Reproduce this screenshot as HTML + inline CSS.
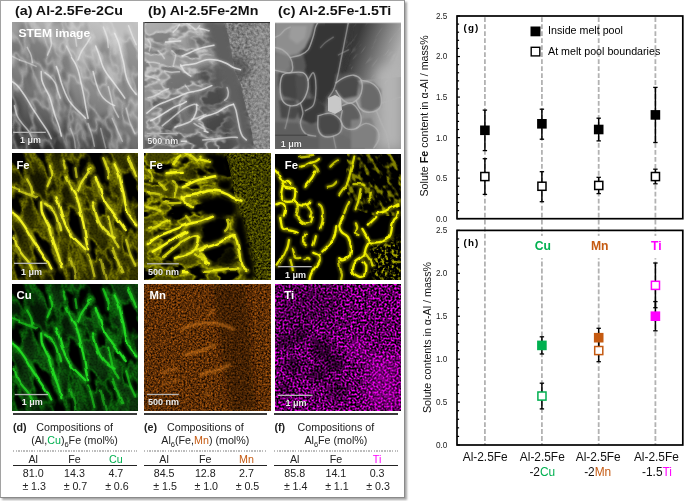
<!DOCTYPE html>
<html><head><meta charset="utf-8"><style>
*{margin:0;padding:0}
html,body{width:685px;height:501px;background:#fff;overflow:hidden;font-family:"Liberation Sans", sans-serif}
.ch{position:absolute;left:0;top:0}
.box{position:absolute;left:0;top:0;width:403px;height:495.6px;border:1px solid #a2a2a2;border-right-color:#8a8a8a;border-bottom-color:#8a8a8a;box-shadow:1.5px 1.5px 2px rgba(0,0,0,0.35)}
.tt{position:absolute;top:3.2px;font-weight:bold;font-size:13px;line-height:15px;transform:scaleX(1.097);transform-origin:0 0;white-space:nowrap;color:#111}
.pn{position:absolute;overflow:hidden}
.hl{position:absolute;height:1.6px;background:#3a3a3a}
.hl2{position:absolute;height:1.3px;background:#222}
.dl{position:absolute;height:1.5px;background:repeating-linear-gradient(90deg,#bdbdbd 0 1.5px,transparent 1.5px 2.62px)}
.tg{position:absolute;font-weight:bold;font-size:10.7px;line-height:12px;color:#222}
.tx{position:absolute;font-size:10.7px;line-height:12px;white-space:nowrap;color:#222}
.tx sub{font-size:7.5px;vertical-align:-2.5px;line-height:0}
.tc{position:absolute;width:50px;text-align:center;font-size:10.7px;line-height:12px;white-space:nowrap;color:#222}
.pm{margin-right:2.8px}
</style></head><body>
<div style="position:absolute;left:0;top:0;width:685px;height:501px;will-change:transform">
<div class="box"></div>

<div class="tt" style="left:14.6px">(a) Al-2.5Fe-2Cu</div>
<div class="tt" style="left:147.6px">(b) Al-2.5Fe-2Mn</div>
<div class="tt" style="left:277.6px">(c) Al-2.5Fe-1.5Ti</div>

<svg width="0" height="0" style="position:absolute"><defs><filter id="vA" x="0" y="0" width="100%" height="100%" color-interpolation-filters="sRGB">
<feTurbulence type="fractalNoise" baseFrequency="0.055 0.028" numOctaves="3" seed="7"/>
<feColorMatrix type="matrix" values="0 0 0 0 0 0 0 0 0 0 0 0 0 0 0 1 0 0 0 0"/>
<feComponentTransfer><feFuncA type="table" tableValues="0 0 0 0 0 0 0 0 0.4 1 0.4 0 0 0 0 0 0 0 0"/></feComponentTransfer>
<feComposite operator="in" in="SourceGraphic"/></filter><filter id="hA" x="0" y="0" width="100%" height="100%" color-interpolation-filters="sRGB">
<feTurbulence type="fractalNoise" baseFrequency="0.05 0.02" numOctaves="2" seed="11"/>
<feColorMatrix type="matrix" values="0 0 0 0 0 0 0 0 0 0 0 0 0 0 0 1 0 0 0 0"/>
<feComponentTransfer><feFuncA type="table" tableValues="1 1 1 1 1 1 1 1 1 0.6 0.2 0 0 0 0 0 0 0 0 0"/></feComponentTransfer>
<feComposite operator="in" in="SourceGraphic"/></filter><filter id="hA2" x="0" y="0" width="100%" height="100%" color-interpolation-filters="sRGB">
<feTurbulence type="fractalNoise" baseFrequency="0.055 0.028" numOctaves="3" seed="7"/>
<feColorMatrix type="matrix" values="0 0 0 0 0 0 0 0 0 0 0 0 0 0 0 1 0 0 0 0"/>
<feComponentTransfer><feFuncA type="table" tableValues="1 1 1 1 1 1 1 1 1 0.5 0 0 0 0 0 0 0 0 0 0"/></feComponentTransfer>
<feComposite operator="in" in="SourceGraphic"/></filter><filter id="hA3" x="0" y="0" width="100%" height="100%" color-interpolation-filters="sRGB">
<feTurbulence type="fractalNoise" baseFrequency="0.045 0.016" numOctaves="3" seed="7"/>
<feColorMatrix type="matrix" values="0 0 0 0 0 0 0 0 0 0 0 0 0 0 0 1 0 0 0 0"/>
<feComponentTransfer><feFuncA type="table" tableValues="0 0 0 0 0 0 0 0 0 0 0 0.5 1 1 1 1 1 1 1 1"/></feComponentTransfer>
<feComposite operator="in" in="SourceGraphic"/></filter><filter id="vB" x="0" y="0" width="100%" height="100%" color-interpolation-filters="sRGB">
<feTurbulence type="fractalNoise" baseFrequency="0.07 0.045" numOctaves="3" seed="5"/>
<feColorMatrix type="matrix" values="0 0 0 0 0 0 0 0 0 0 0 0 0 0 0 1 0 0 0 0"/>
<feComponentTransfer><feFuncA type="table" tableValues="0 0 0 0 0 0 0 0 0.4 1 0.4 0 0 0 0 0 0 0 0"/></feComponentTransfer>
<feComposite operator="in" in="SourceGraphic"/></filter><filter id="hB" x="0" y="0" width="100%" height="100%" color-interpolation-filters="sRGB">
<feTurbulence type="fractalNoise" baseFrequency="0.06 0.025" numOctaves="2" seed="13"/>
<feColorMatrix type="matrix" values="0 0 0 0 0 0 0 0 0 0 0 0 0 0 0 1 0 0 0 0"/>
<feComponentTransfer><feFuncA type="table" tableValues="1 1 1 1 1 1 1 1 1 0.6 0.2 0 0 0 0 0 0 0 0 0"/></feComponentTransfer>
<feComposite operator="in" in="SourceGraphic"/></filter><filter id="hB2" x="0" y="0" width="100%" height="100%" color-interpolation-filters="sRGB">
<feTurbulence type="fractalNoise" baseFrequency="0.07 0.045" numOctaves="3" seed="5"/>
<feColorMatrix type="matrix" values="0 0 0 0 0 0 0 0 0 0 0 0 0 0 0 1 0 0 0 0"/>
<feComponentTransfer><feFuncA type="table" tableValues="1 1 1 1 1 1 1 1 1 0.5 0 0 0 0 0 0 0 0 0 0"/></feComponentTransfer>
<feComposite operator="in" in="SourceGraphic"/></filter><filter id="spk" x="0" y="0" width="100%" height="100%" color-interpolation-filters="sRGB">
<feTurbulence type="fractalNoise" baseFrequency="0.42" numOctaves="2" seed="3"/>
<feColorMatrix type="matrix" values="0 0 0 0 0 0 0 0 0 0 0 0 0 0 0 1 0 0 0 0"/>
<feComponentTransfer><feFuncA type="table" tableValues="0 0 0 0.1 0.4 0.8 1 1"/></feComponentTransfer>
<feComposite operator="in" in="SourceGraphic"/></filter><filter id="spk2" x="0" y="0" width="100%" height="100%" color-interpolation-filters="sRGB">
<feTurbulence type="fractalNoise" baseFrequency="0.45" numOctaves="2" seed="8"/>
<feColorMatrix type="matrix" values="0 0 0 0 0 0 0 0 0 0 0 0 0 0 0 1 0 0 0 0"/>
<feComponentTransfer><feFuncA type="table" tableValues="0 0 0 0 0.3 0.8 1 1"/></feComponentTransfer>
<feComposite operator="in" in="SourceGraphic"/></filter><filter id="spkF" x="0" y="0" width="100%" height="100%" color-interpolation-filters="sRGB">
<feTurbulence type="fractalNoise" baseFrequency="0.5" numOctaves="2" seed="31"/>
<feColorMatrix type="matrix" values="0 0 0 0 0 0 0 0 0 0 0 0 0 0 0 1 0 0 0 0"/>
<feComponentTransfer><feFuncA type="table" tableValues="0 0 0 0.15 0.5 0.85 1 1"/></feComponentTransfer>
<feComposite operator="in" in="SourceGraphic"/></filter><filter id="spkT" x="0" y="0" width="100%" height="100%" color-interpolation-filters="sRGB">
<feTurbulence type="fractalNoise" baseFrequency="0.75" numOctaves="2" seed="41"/>
<feColorMatrix type="matrix" values="0 0 0 0 0 0 0 0 0 0 0 0 0 0 0 1 0 0 0 0"/>
<feComponentTransfer><feFuncA type="table" tableValues="0 0 0 0 0.1 0.5 0.9 1 1 1"/></feComponentTransfer>
<feComposite operator="in" in="SourceGraphic"/></filter><filter id="spkT2" x="0" y="0" width="100%" height="100%" color-interpolation-filters="sRGB">
<feTurbulence type="fractalNoise" baseFrequency="0.75" numOctaves="2" seed="43"/>
<feColorMatrix type="matrix" values="0 0 0 0 0 0 0 0 0 0 0 0 0 0 0 1 0 0 0 0"/>
<feComponentTransfer><feFuncA type="table" tableValues="0 0 0 0 0 0.1 0.6 1 1 1"/></feComponentTransfer>
<feComposite operator="in" in="SourceGraphic"/></filter><filter id="spkC" x="0" y="0" width="100%" height="100%" color-interpolation-filters="sRGB">
<feTurbulence type="fractalNoise" baseFrequency="0.35 0.06" numOctaves="2" seed="21"/>
<feColorMatrix type="matrix" values="0 0 0 0 0 0 0 0 0 0 0 0 0 0 0 1 0 0 0 0"/>
<feComponentTransfer><feFuncA type="table" tableValues="0 0 0 0 0 0 0.5 1 1"/></feComponentTransfer>
<feComposite operator="in" in="SourceGraphic"/></filter><filter id="dots" x="0" y="0" width="100%" height="100%" color-interpolation-filters="sRGB">
<feTurbulence type="fractalNoise" baseFrequency="0.25" numOctaves="2" seed="17"/>
<feColorMatrix type="matrix" values="0 0 0 0 0 0 0 0 0 0 0 0 0 0 0 1 0 0 0 0"/>
<feComponentTransfer><feFuncA type="table" tableValues="0 0 0 0 0 0 0 0.6 1 1"/></feComponentTransfer>
<feComposite operator="in" in="SourceGraphic"/></filter><filter id="dots2" x="0" y="0" width="100%" height="100%" color-interpolation-filters="sRGB">
<feTurbulence type="fractalNoise" baseFrequency="0.3" numOctaves="2" seed="17"/>
<feColorMatrix type="matrix" values="0 0 0 0 0 0 0 0 0 0 0 0 0 0 0 1 0 0 0 0"/>
<feComponentTransfer><feFuncA type="table" tableValues="0 0 0 0 0 0.3 0.9 1 1 1"/></feComponentTransfer>
<feComposite operator="in" in="SourceGraphic"/></filter><filter id="dots3" x="0" y="0" width="100%" height="100%" color-interpolation-filters="sRGB">
<feTurbulence type="fractalNoise" baseFrequency="0.22 0.12" numOctaves="2" seed="19"/>
<feColorMatrix type="matrix" values="0 0 0 0 0 0 0 0 0 0 0 0 0 0 0 1 0 0 0 0"/>
<feComponentTransfer><feFuncA type="table" tableValues="0 0 0 0 0 0 0.4 1 1 1 1"/></feComponentTransfer>
<feComposite operator="in" in="SourceGraphic"/></filter><filter id="nMn" x="0" y="0" width="100%" height="100%" color-interpolation-filters="sRGB">
<feTurbulence type="fractalNoise" baseFrequency="0.55" numOctaves="2" seed="51"/>
<feColorMatrix type="matrix" values="1.0196 0 0 0 -0.1373 0.5490 0 0 0 -0.0902 0.0941 0 0 0 -0.0235 0 0 0 0 1"/><feGaussianBlur stdDeviation="0.35"/>
</filter><filter id="nTi" x="0" y="0" width="100%" height="100%" color-interpolation-filters="sRGB">
<feTurbulence type="fractalNoise" baseFrequency="0.5" numOctaves="3" seed="53"/>
<feColorMatrix type="matrix" values="2.6144 0 0 0 -0.9412 0.0000 0 0 0 0.0000 2.6144 0 0 0 -0.9412 0 0 0 0 1"/><feGaussianBlur stdDeviation="0.35"/>
</filter><filter id="nFeB" x="0" y="0" width="100%" height="100%" color-interpolation-filters="sRGB">
<feTurbulence type="fractalNoise" baseFrequency="0.48" numOctaves="2" seed="55"/>
<feColorMatrix type="matrix" values="0.8217 0 0 0 -0.1602 0.8217 0 0 0 -0.1602 0.0000 0 0 0 0.0000 0 0 0 0 1"/><feGaussianBlur stdDeviation="0.35"/>
</filter><filter id="nStB" x="0" y="0" width="100%" height="100%" color-interpolation-filters="sRGB">
<feTurbulence type="fractalNoise" baseFrequency="0.36" numOctaves="2" seed="57"/>
<feColorMatrix type="matrix" values="0.4902 0 0 0 0.2549 0.4902 0 0 0 0.2549 0.4902 0 0 0 0.2549 0 0 0 0 1"/><feGaussianBlur stdDeviation="0.35"/>
</filter><filter id="b05" x="-10%" y="-10%" width="120%" height="120%"><feGaussianBlur stdDeviation="0.55"/></filter><filter id="wig" x="-5%" y="-5%" width="110%" height="110%"><feTurbulence type="fractalNoise" baseFrequency="0.12" numOctaves="1" seed="2" result="n"/><feDisplacementMap in="SourceGraphic" in2="n" scale="4" xChannelSelector="R" yChannelSelector="G" result="d"/><feGaussianBlur in="d" stdDeviation="0.45"/></filter><filter id="wig2" x="-5%" y="-5%" width="110%" height="110%"><feTurbulence type="fractalNoise" baseFrequency="0.09" numOctaves="1" seed="12" result="n"/><feDisplacementMap in="SourceGraphic" in2="n" scale="4" xChannelSelector="R" yChannelSelector="G" result="d"/><feGaussianBlur in="d" stdDeviation="0.5"/></filter><filter id="b1" x="-20%" y="-20%" width="140%" height="140%"><feGaussianBlur stdDeviation="1"/></filter><filter id="b07" x="-20%" y="-20%" width="140%" height="140%"><feGaussianBlur stdDeviation="0.75"/></filter><filter id="b2" x="-20%" y="-20%" width="140%" height="140%"><feGaussianBlur stdDeviation="2"/></filter><filter id="b3" x="-30%" y="-30%" width="160%" height="160%"><feGaussianBlur stdDeviation="3"/></filter><filter id="b6" x="-50%" y="-50%" width="200%" height="200%"><feGaussianBlur stdDeviation="6"/></filter><linearGradient id="gA1" x1="0.65" y1="0" x2="0.2" y2="1"><stop offset="0" stop-color="#c0c0c0"/><stop offset="0.35" stop-color="#989898"/><stop offset="0.7" stop-color="#6c6c6c"/><stop offset="1" stop-color="#323232"/></linearGradient><clipPath id="cBspk"><path d="M81.0,0.0 L85.0,12.6 L88.7,31.0 L92.0,50.0 L98.0,63.0 L100.7,76.0 L105.8,95.0 L109.6,114.0 L111.0,127.0 L127.0,127.0 L127.0,0.0 Z"/></clipPath><clipPath id="cBnet"><path d="M0,0 L81,0 L85,12.6 L88.7,31 L92,50 L98,63 L100.7,76 L105.8,95 L109.6,114 L111,127 L0,127 Z"/></clipPath><linearGradient id="gB1" x1="0" y1="0" x2="0.6" y2="1"><stop offset="0" stop-color="#b0b0b0"/><stop offset="0.5" stop-color="#8a8a8a"/><stop offset="1" stop-color="#585858"/></linearGradient><linearGradient id="gC1r" x1="0" y1="0" x2="1" y2="0.3"><stop offset="0.45" stop-color="#3a3a3a"/><stop offset="1" stop-color="#b0b0b0"/></linearGradient><linearGradient id="gCti" x1="0" y1="0" x2="1" y2="1"><stop offset="0.3" stop-color="#fff" stop-opacity="0"/><stop offset="1" stop-color="#fff" stop-opacity="1"/></linearGradient><linearGradient id="gCd" x1="0" y1="0" x2="1" y2="0"><stop offset="0.55" stop-color="#fff" stop-opacity="0.25"/><stop offset="1" stop-color="#fff" stop-opacity="1"/></linearGradient><mask id="mCdots"><rect width="127" height="127" fill="url(#gCd)"/></mask><mask id="mCspk2"><path d="M96,92 L127,84 L127,127 L98,127 Z" fill="#fff" filter="url(#b3)"/></mask><mask id="mCti"><rect width="127" height="127" fill="url(#gCti)"/></mask><clipPath id="cCspk1"><path d="M72,0 L127,0 L127,62 L100,62 L80,55 L70,35 Z"/></clipPath><clipPath id="cCspk2"><path d="M98,90 L127,85 L127,127 L98,127 Z"/></clipPath></defs></svg>
<svg class="pn" style="left:12px;top:22px" width="126" height="127" viewBox="0 0 126 127"><rect width="126" height="127" fill="url(#gA1)"/><g><g transform="rotate(-17 63 63)" opacity="0.18"><rect x="-60" y="-60" width="250" height="250" fill="#000" filter="url(#hA)"/></g></g><g><g transform="rotate(-17 63 63)" opacity="0.4"><rect x="-60" y="-60" width="250" height="250" fill="#e4e4e4" filter="url(#vA)"/></g></g><g fill="none" stroke="#f0f0f0" stroke-width="3.9000000000000004" stroke-linecap="round" stroke-linejoin="round" opacity="0.3" filter="url(#b1)"><path d="M0.0,59.6 C0.8,60.2 3.4,61.7 5.1,63.4 C6.8,65.1 8.5,67.4 10.1,69.7 C11.8,72.1 13.5,74.6 15.2,77.3 C16.9,80.1 18.6,83.5 20.3,86.2 C22.0,89.0 23.7,91.3 25.4,93.8 C27.0,96.3 28.7,98.9 30.4,101.4 C32.1,104.0 34.0,106.5 35.5,109.0 C37.0,111.6 38.7,115.4 39.3,116.6" stroke-opacity="0.70"/><path d="M29.2,49.4 C29.3,50.9 29.3,55.6 29.9,58.3 C30.6,61.1 31.7,63.2 33.0,65.9 C34.2,68.7 36.3,71.6 37.5,74.8 C38.8,78.0 39.6,81.8 40.6,84.9 C41.5,88.1 42.0,90.6 43.1,93.8 C44.2,97.0 45.9,100.6 46.9,104.0 C48.0,107.3 49.0,112.4 49.4,114.1" stroke-opacity="0.70"/><path d="M33.0,50.7 C33.8,51.3 36.3,52.8 38.0,54.5 C39.7,56.2 41.8,58.5 43.1,60.9 C44.4,63.2 44.8,65.9 45.6,68.5 C46.5,71.0 47.8,74.8 48.2,76.1" stroke-opacity="0.56"/><path d="M44.4,44.4 C44.8,45.6 46.1,49.2 46.9,52.0 C47.8,54.7 48.4,57.7 49.4,60.9 C50.5,64.0 52.0,68.0 53.2,71.0 C54.5,74.0 55.6,76.3 57.0,78.6 C58.5,80.9 60.2,82.8 62.1,84.9 C64.0,87.1 66.6,89.4 68.5,91.3 C70.4,93.2 72.7,95.5 73.5,96.3" stroke-opacity="0.70"/><path d="M59.6,35.5 C60.2,36.6 62.2,39.5 63.4,41.8 C64.5,44.2 65.6,46.7 66.4,49.4 C67.3,52.2 67.8,55.4 68.5,58.3 C69.1,61.3 69.9,64.2 70.5,67.2 C71.1,70.1 71.7,72.9 72.3,76.1 C72.9,79.2 73.4,82.8 74.0,86.2 C74.7,89.6 75.7,94.7 76.1,96.3" stroke-opacity="0.70"/><path d="M81.1,49.4 C81.6,51.1 82.7,56.4 83.7,59.6 C84.6,62.8 85.4,65.7 86.7,68.5 C88.0,71.2 89.5,74.0 91.3,76.1 C93.1,78.2 95.7,79.9 97.6,81.1 C99.5,82.4 101.8,83.2 102.7,83.7" stroke-opacity="0.63"/><path d="M83.7,24.1 C84.3,25.8 86.3,30.8 87.5,34.2 C88.7,37.6 89.5,41.4 90.8,44.4 C92.0,47.3 93.4,49.4 95.1,52.0 C96.8,54.5 99.0,57.0 100.9,59.6 C102.8,62.1 104.5,64.4 106.5,67.2 C108.5,69.9 111.8,74.6 112.8,76.1" stroke-opacity="0.70"/><path d="M102.7,11.4 C103.3,12.9 105.4,17.1 106.5,20.3 C107.5,23.5 108.2,27.0 109.0,30.4 C109.9,33.8 110.8,37.2 111.6,40.6 C112.3,43.9 112.7,47.8 113.3,50.7 C114.0,53.7 114.4,55.8 115.4,58.3 C116.3,60.9 117.7,63.6 119.2,65.9 C120.6,68.2 123.4,71.2 124.2,72.3" stroke-opacity="0.70"/><path d="M2.5,83.7 C3.0,85.4 3.8,90.9 5.1,93.8 C6.3,96.8 8.2,98.9 10.1,101.4 C12.0,104.0 14.8,106.5 16.5,109.0 C18.2,111.6 19.7,115.4 20.3,116.6" stroke-opacity="0.56"/><path d="M7.6,38.0 C8.9,38.5 12.5,39.5 15.2,40.6 C18.0,41.6 22.6,43.7 24.1,44.4" stroke-opacity="0.42"/><path d="M15.2,25.4 C15.8,26.6 18.2,30.4 19.0,33.0 C19.9,35.5 20.1,39.3 20.3,40.6" stroke-opacity="0.49"/><path d="M38.0,12.7 C38.2,14.4 39.7,19.4 39.3,22.8 C38.9,26.2 36.1,31.3 35.5,33.0" stroke-opacity="0.49"/><path d="M54.5,24.1 C55.4,25.8 58.7,32.5 59.6,34.2" stroke-opacity="0.49"/><path d="M65.9,38.0 C66.6,36.6 68.2,31.9 69.7,29.2 C71.2,26.4 73.3,23.9 74.8,21.6 C76.3,19.2 78.0,16.3 78.6,15.2" stroke-opacity="0.56"/><path d="M91.3,5.1 C91.9,6.8 94.2,11.8 95.1,15.2 C95.9,18.6 96.1,23.7 96.3,25.4" stroke-opacity="0.49"/><path d="M116.6,3.8 C117.3,5.5 119.2,10.8 120.4,13.9 C121.7,17.1 123.6,21.3 124.2,22.8" stroke-opacity="0.56"/><path d="M96.3,64.7 C96.8,66.3 98.0,71.4 98.9,74.8 C99.7,78.2 100.2,81.6 101.4,84.9 C102.7,88.3 105.6,93.4 106.5,95.1" stroke-opacity="0.49"/><path d="M63.4,15.2 C63.6,16.7 64.4,22.6 64.7,24.1" stroke-opacity="0.42"/><path d="M50.7,7.6 C51.1,8.9 52.8,13.9 53.2,15.2" stroke-opacity="0.42"/><path d="M76.1,101.4 C76.7,103.3 78.8,109.0 79.9,112.8 C80.9,116.6 82.0,122.3 82.4,124.2" stroke-opacity="0.42"/><path d="M100.2,96.3 C101.0,98.3 103.5,104.0 105.2,107.8 C106.9,111.6 109.4,117.3 110.3,119.2" stroke-opacity="0.42"/><path d="M114.1,86.2 C114.7,88.5 116.4,95.9 117.9,100.2 C119.4,104.4 122.1,109.7 123.0,111.6" stroke-opacity="0.42"/><path d="M0.0,34.2 C1.3,34.9 6.3,37.4 7.6,38.0" stroke-opacity="0.42"/><path d="M58.3,106.5 C59.0,108.2 61.3,113.4 62.1,116.6 C63.0,119.9 63.2,124.5 63.4,126.0" stroke-opacity="0.35"/><path d="M88.7,106.5 C89.2,108.2 90.4,113.4 91.3,116.6 C92.1,119.9 93.4,124.5 93.8,126.0" stroke-opacity="0.35"/></g><g fill="none" stroke="#f0f0f0" stroke-width="1.5" stroke-linecap="round" stroke-linejoin="round" filter="url(#b07)"><path d="M0.0,59.6 C0.8,60.2 3.4,61.7 5.1,63.4 C6.8,65.1 8.5,67.4 10.1,69.7 C11.8,72.1 13.5,74.6 15.2,77.3 C16.9,80.1 18.6,83.5 20.3,86.2 C22.0,89.0 23.7,91.3 25.4,93.8 C27.0,96.3 28.7,98.9 30.4,101.4 C32.1,104.0 34.0,106.5 35.5,109.0 C37.0,111.6 38.7,115.4 39.3,116.6" stroke-opacity="0.70"/><path d="M29.2,49.4 C29.3,50.9 29.3,55.6 29.9,58.3 C30.6,61.1 31.7,63.2 33.0,65.9 C34.2,68.7 36.3,71.6 37.5,74.8 C38.8,78.0 39.6,81.8 40.6,84.9 C41.5,88.1 42.0,90.6 43.1,93.8 C44.2,97.0 45.9,100.6 46.9,104.0 C48.0,107.3 49.0,112.4 49.4,114.1" stroke-opacity="0.70"/><path d="M33.0,50.7 C33.8,51.3 36.3,52.8 38.0,54.5 C39.7,56.2 41.8,58.5 43.1,60.9 C44.4,63.2 44.8,65.9 45.6,68.5 C46.5,71.0 47.8,74.8 48.2,76.1" stroke-opacity="0.56"/><path d="M44.4,44.4 C44.8,45.6 46.1,49.2 46.9,52.0 C47.8,54.7 48.4,57.7 49.4,60.9 C50.5,64.0 52.0,68.0 53.2,71.0 C54.5,74.0 55.6,76.3 57.0,78.6 C58.5,80.9 60.2,82.8 62.1,84.9 C64.0,87.1 66.6,89.4 68.5,91.3 C70.4,93.2 72.7,95.5 73.5,96.3" stroke-opacity="0.70"/><path d="M59.6,35.5 C60.2,36.6 62.2,39.5 63.4,41.8 C64.5,44.2 65.6,46.7 66.4,49.4 C67.3,52.2 67.8,55.4 68.5,58.3 C69.1,61.3 69.9,64.2 70.5,67.2 C71.1,70.1 71.7,72.9 72.3,76.1 C72.9,79.2 73.4,82.8 74.0,86.2 C74.7,89.6 75.7,94.7 76.1,96.3" stroke-opacity="0.70"/><path d="M81.1,49.4 C81.6,51.1 82.7,56.4 83.7,59.6 C84.6,62.8 85.4,65.7 86.7,68.5 C88.0,71.2 89.5,74.0 91.3,76.1 C93.1,78.2 95.7,79.9 97.6,81.1 C99.5,82.4 101.8,83.2 102.7,83.7" stroke-opacity="0.63"/><path d="M83.7,24.1 C84.3,25.8 86.3,30.8 87.5,34.2 C88.7,37.6 89.5,41.4 90.8,44.4 C92.0,47.3 93.4,49.4 95.1,52.0 C96.8,54.5 99.0,57.0 100.9,59.6 C102.8,62.1 104.5,64.4 106.5,67.2 C108.5,69.9 111.8,74.6 112.8,76.1" stroke-opacity="0.70"/><path d="M102.7,11.4 C103.3,12.9 105.4,17.1 106.5,20.3 C107.5,23.5 108.2,27.0 109.0,30.4 C109.9,33.8 110.8,37.2 111.6,40.6 C112.3,43.9 112.7,47.8 113.3,50.7 C114.0,53.7 114.4,55.8 115.4,58.3 C116.3,60.9 117.7,63.6 119.2,65.9 C120.6,68.2 123.4,71.2 124.2,72.3" stroke-opacity="0.70"/><path d="M2.5,83.7 C3.0,85.4 3.8,90.9 5.1,93.8 C6.3,96.8 8.2,98.9 10.1,101.4 C12.0,104.0 14.8,106.5 16.5,109.0 C18.2,111.6 19.7,115.4 20.3,116.6" stroke-opacity="0.56"/><path d="M7.6,38.0 C8.9,38.5 12.5,39.5 15.2,40.6 C18.0,41.6 22.6,43.7 24.1,44.4" stroke-opacity="0.42"/><path d="M15.2,25.4 C15.8,26.6 18.2,30.4 19.0,33.0 C19.9,35.5 20.1,39.3 20.3,40.6" stroke-opacity="0.49"/><path d="M38.0,12.7 C38.2,14.4 39.7,19.4 39.3,22.8 C38.9,26.2 36.1,31.3 35.5,33.0" stroke-opacity="0.49"/><path d="M54.5,24.1 C55.4,25.8 58.7,32.5 59.6,34.2" stroke-opacity="0.49"/><path d="M65.9,38.0 C66.6,36.6 68.2,31.9 69.7,29.2 C71.2,26.4 73.3,23.9 74.8,21.6 C76.3,19.2 78.0,16.3 78.6,15.2" stroke-opacity="0.56"/><path d="M91.3,5.1 C91.9,6.8 94.2,11.8 95.1,15.2 C95.9,18.6 96.1,23.7 96.3,25.4" stroke-opacity="0.49"/><path d="M116.6,3.8 C117.3,5.5 119.2,10.8 120.4,13.9 C121.7,17.1 123.6,21.3 124.2,22.8" stroke-opacity="0.56"/><path d="M96.3,64.7 C96.8,66.3 98.0,71.4 98.9,74.8 C99.7,78.2 100.2,81.6 101.4,84.9 C102.7,88.3 105.6,93.4 106.5,95.1" stroke-opacity="0.49"/><path d="M63.4,15.2 C63.6,16.7 64.4,22.6 64.7,24.1" stroke-opacity="0.42"/><path d="M50.7,7.6 C51.1,8.9 52.8,13.9 53.2,15.2" stroke-opacity="0.42"/><path d="M76.1,101.4 C76.7,103.3 78.8,109.0 79.9,112.8 C80.9,116.6 82.0,122.3 82.4,124.2" stroke-opacity="0.42"/><path d="M100.2,96.3 C101.0,98.3 103.5,104.0 105.2,107.8 C106.9,111.6 109.4,117.3 110.3,119.2" stroke-opacity="0.42"/><path d="M114.1,86.2 C114.7,88.5 116.4,95.9 117.9,100.2 C119.4,104.4 122.1,109.7 123.0,111.6" stroke-opacity="0.42"/><path d="M0.0,34.2 C1.3,34.9 6.3,37.4 7.6,38.0" stroke-opacity="0.42"/><path d="M58.3,106.5 C59.0,108.2 61.3,113.4 62.1,116.6 C63.0,119.9 63.2,124.5 63.4,126.0" stroke-opacity="0.35"/><path d="M88.7,106.5 C89.2,108.2 90.4,113.4 91.3,116.6 C92.1,119.9 93.4,124.5 93.8,126.0" stroke-opacity="0.35"/></g><text font-family="Liberation Sans" font-weight="bold" font-size="11.3" fill="#fff" transform="translate(6.4 15.2) scale(1.07 1)">STEM image</text><rect x="1.1" y="109.7" width="32.699999999999996" height="1.3" fill="#b4b4b4"/><text x="7.9" y="121.2" font-family="Liberation Sans" font-weight="bold" font-size="9" fill="#eeeeee" stroke="#000" stroke-width="0.7" stroke-opacity="0.45" paint-order="stroke">1 μm</text></svg>
<svg class="pn" style="left:12px;top:153px" width="126" height="127" viewBox="0 0 126 127"><rect width="126" height="127" fill="#3a3a00"/><g><g transform="rotate(-17 63 63)" opacity="1.0"><rect x="-60" y="-60" width="250" height="250" fill="#000" filter="url(#hA2)"/></g></g><g><g transform="rotate(-17 63 63)" opacity="0.5"><rect x="-60" y="-60" width="250" height="250" fill="#000" filter="url(#hA)"/></g></g><g><g transform="rotate(-17 63 63)" opacity="0.5"><rect x="-60" y="-60" width="250" height="250" fill="#d0d000" filter="url(#vA)"/></g></g><g><rect width="127" height="127" fill="#000" opacity="0.4" filter="url(#spkF)"/></g><g fill="none" stroke="#f0f020" stroke-width="5.06" stroke-linecap="round" stroke-linejoin="round" opacity="0.45" filter="url(#b1)"><path d="M0.0,59.6 C0.8,60.2 3.4,61.7 5.1,63.4 C6.8,65.1 8.5,67.4 10.1,69.7 C11.8,72.1 13.5,74.6 15.2,77.3 C16.9,80.1 18.6,83.5 20.3,86.2 C22.0,89.0 23.7,91.3 25.4,93.8 C27.0,96.3 28.7,98.9 30.4,101.4 C32.1,104.0 34.0,106.5 35.5,109.0 C37.0,111.6 38.7,115.4 39.3,116.6" stroke-opacity="1.00"/><path d="M29.2,49.4 C29.3,50.9 29.3,55.6 29.9,58.3 C30.6,61.1 31.7,63.2 33.0,65.9 C34.2,68.7 36.3,71.6 37.5,74.8 C38.8,78.0 39.6,81.8 40.6,84.9 C41.5,88.1 42.0,90.6 43.1,93.8 C44.2,97.0 45.9,100.6 46.9,104.0 C48.0,107.3 49.0,112.4 49.4,114.1" stroke-opacity="1.00"/><path d="M33.0,50.7 C33.8,51.3 36.3,52.8 38.0,54.5 C39.7,56.2 41.8,58.5 43.1,60.9 C44.4,63.2 44.8,65.9 45.6,68.5 C46.5,71.0 47.8,74.8 48.2,76.1" stroke-opacity="0.80"/><path d="M44.4,44.4 C44.8,45.6 46.1,49.2 46.9,52.0 C47.8,54.7 48.4,57.7 49.4,60.9 C50.5,64.0 52.0,68.0 53.2,71.0 C54.5,74.0 55.6,76.3 57.0,78.6 C58.5,80.9 60.2,82.8 62.1,84.9 C64.0,87.1 66.6,89.4 68.5,91.3 C70.4,93.2 72.7,95.5 73.5,96.3" stroke-opacity="1.00"/><path d="M59.6,35.5 C60.2,36.6 62.2,39.5 63.4,41.8 C64.5,44.2 65.6,46.7 66.4,49.4 C67.3,52.2 67.8,55.4 68.5,58.3 C69.1,61.3 69.9,64.2 70.5,67.2 C71.1,70.1 71.7,72.9 72.3,76.1 C72.9,79.2 73.4,82.8 74.0,86.2 C74.7,89.6 75.7,94.7 76.1,96.3" stroke-opacity="1.00"/><path d="M81.1,49.4 C81.6,51.1 82.7,56.4 83.7,59.6 C84.6,62.8 85.4,65.7 86.7,68.5 C88.0,71.2 89.5,74.0 91.3,76.1 C93.1,78.2 95.7,79.9 97.6,81.1 C99.5,82.4 101.8,83.2 102.7,83.7" stroke-opacity="0.90"/><path d="M83.7,24.1 C84.3,25.8 86.3,30.8 87.5,34.2 C88.7,37.6 89.5,41.4 90.8,44.4 C92.0,47.3 93.4,49.4 95.1,52.0 C96.8,54.5 99.0,57.0 100.9,59.6 C102.8,62.1 104.5,64.4 106.5,67.2 C108.5,69.9 111.8,74.6 112.8,76.1" stroke-opacity="1.00"/><path d="M102.7,11.4 C103.3,12.9 105.4,17.1 106.5,20.3 C107.5,23.5 108.2,27.0 109.0,30.4 C109.9,33.8 110.8,37.2 111.6,40.6 C112.3,43.9 112.7,47.8 113.3,50.7 C114.0,53.7 114.4,55.8 115.4,58.3 C116.3,60.9 117.7,63.6 119.2,65.9 C120.6,68.2 123.4,71.2 124.2,72.3" stroke-opacity="1.00"/><path d="M2.5,83.7 C3.0,85.4 3.8,90.9 5.1,93.8 C6.3,96.8 8.2,98.9 10.1,101.4 C12.0,104.0 14.8,106.5 16.5,109.0 C18.2,111.6 19.7,115.4 20.3,116.6" stroke-opacity="0.80"/><path d="M7.6,38.0 C8.9,38.5 12.5,39.5 15.2,40.6 C18.0,41.6 22.6,43.7 24.1,44.4" stroke-opacity="0.60"/><path d="M15.2,25.4 C15.8,26.6 18.2,30.4 19.0,33.0 C19.9,35.5 20.1,39.3 20.3,40.6" stroke-opacity="0.70"/><path d="M38.0,12.7 C38.2,14.4 39.7,19.4 39.3,22.8 C38.9,26.2 36.1,31.3 35.5,33.0" stroke-opacity="0.70"/><path d="M54.5,24.1 C55.4,25.8 58.7,32.5 59.6,34.2" stroke-opacity="0.70"/><path d="M65.9,38.0 C66.6,36.6 68.2,31.9 69.7,29.2 C71.2,26.4 73.3,23.9 74.8,21.6 C76.3,19.2 78.0,16.3 78.6,15.2" stroke-opacity="0.80"/><path d="M91.3,5.1 C91.9,6.8 94.2,11.8 95.1,15.2 C95.9,18.6 96.1,23.7 96.3,25.4" stroke-opacity="0.70"/><path d="M116.6,3.8 C117.3,5.5 119.2,10.8 120.4,13.9 C121.7,17.1 123.6,21.3 124.2,22.8" stroke-opacity="0.80"/><path d="M96.3,64.7 C96.8,66.3 98.0,71.4 98.9,74.8 C99.7,78.2 100.2,81.6 101.4,84.9 C102.7,88.3 105.6,93.4 106.5,95.1" stroke-opacity="0.70"/><path d="M63.4,15.2 C63.6,16.7 64.4,22.6 64.7,24.1" stroke-opacity="0.60"/><path d="M50.7,7.6 C51.1,8.9 52.8,13.9 53.2,15.2" stroke-opacity="0.60"/><path d="M76.1,101.4 C76.7,103.3 78.8,109.0 79.9,112.8 C80.9,116.6 82.0,122.3 82.4,124.2" stroke-opacity="0.60"/><path d="M100.2,96.3 C101.0,98.3 103.5,104.0 105.2,107.8 C106.9,111.6 109.4,117.3 110.3,119.2" stroke-opacity="0.60"/><path d="M114.1,86.2 C114.7,88.5 116.4,95.9 117.9,100.2 C119.4,104.4 122.1,109.7 123.0,111.6" stroke-opacity="0.60"/><path d="M0.0,34.2 C1.3,34.9 6.3,37.4 7.6,38.0" stroke-opacity="0.60"/><path d="M58.3,106.5 C59.0,108.2 61.3,113.4 62.1,116.6 C63.0,119.9 63.2,124.5 63.4,126.0" stroke-opacity="0.50"/><path d="M88.7,106.5 C89.2,108.2 90.4,113.4 91.3,116.6 C92.1,119.9 93.4,124.5 93.8,126.0" stroke-opacity="0.50"/></g><g fill="none" stroke="#f0f020" stroke-width="2.3" stroke-linecap="round" stroke-linejoin="round" filter="url(#wig2)"><path d="M0.0,59.6 C0.8,60.2 3.4,61.7 5.1,63.4 C6.8,65.1 8.5,67.4 10.1,69.7 C11.8,72.1 13.5,74.6 15.2,77.3 C16.9,80.1 18.6,83.5 20.3,86.2 C22.0,89.0 23.7,91.3 25.4,93.8 C27.0,96.3 28.7,98.9 30.4,101.4 C32.1,104.0 34.0,106.5 35.5,109.0 C37.0,111.6 38.7,115.4 39.3,116.6" stroke-opacity="1.00"/><path d="M29.2,49.4 C29.3,50.9 29.3,55.6 29.9,58.3 C30.6,61.1 31.7,63.2 33.0,65.9 C34.2,68.7 36.3,71.6 37.5,74.8 C38.8,78.0 39.6,81.8 40.6,84.9 C41.5,88.1 42.0,90.6 43.1,93.8 C44.2,97.0 45.9,100.6 46.9,104.0 C48.0,107.3 49.0,112.4 49.4,114.1" stroke-opacity="1.00"/><path d="M33.0,50.7 C33.8,51.3 36.3,52.8 38.0,54.5 C39.7,56.2 41.8,58.5 43.1,60.9 C44.4,63.2 44.8,65.9 45.6,68.5 C46.5,71.0 47.8,74.8 48.2,76.1" stroke-opacity="0.80"/><path d="M44.4,44.4 C44.8,45.6 46.1,49.2 46.9,52.0 C47.8,54.7 48.4,57.7 49.4,60.9 C50.5,64.0 52.0,68.0 53.2,71.0 C54.5,74.0 55.6,76.3 57.0,78.6 C58.5,80.9 60.2,82.8 62.1,84.9 C64.0,87.1 66.6,89.4 68.5,91.3 C70.4,93.2 72.7,95.5 73.5,96.3" stroke-opacity="1.00"/><path d="M59.6,35.5 C60.2,36.6 62.2,39.5 63.4,41.8 C64.5,44.2 65.6,46.7 66.4,49.4 C67.3,52.2 67.8,55.4 68.5,58.3 C69.1,61.3 69.9,64.2 70.5,67.2 C71.1,70.1 71.7,72.9 72.3,76.1 C72.9,79.2 73.4,82.8 74.0,86.2 C74.7,89.6 75.7,94.7 76.1,96.3" stroke-opacity="1.00"/><path d="M81.1,49.4 C81.6,51.1 82.7,56.4 83.7,59.6 C84.6,62.8 85.4,65.7 86.7,68.5 C88.0,71.2 89.5,74.0 91.3,76.1 C93.1,78.2 95.7,79.9 97.6,81.1 C99.5,82.4 101.8,83.2 102.7,83.7" stroke-opacity="0.90"/><path d="M83.7,24.1 C84.3,25.8 86.3,30.8 87.5,34.2 C88.7,37.6 89.5,41.4 90.8,44.4 C92.0,47.3 93.4,49.4 95.1,52.0 C96.8,54.5 99.0,57.0 100.9,59.6 C102.8,62.1 104.5,64.4 106.5,67.2 C108.5,69.9 111.8,74.6 112.8,76.1" stroke-opacity="1.00"/><path d="M102.7,11.4 C103.3,12.9 105.4,17.1 106.5,20.3 C107.5,23.5 108.2,27.0 109.0,30.4 C109.9,33.8 110.8,37.2 111.6,40.6 C112.3,43.9 112.7,47.8 113.3,50.7 C114.0,53.7 114.4,55.8 115.4,58.3 C116.3,60.9 117.7,63.6 119.2,65.9 C120.6,68.2 123.4,71.2 124.2,72.3" stroke-opacity="1.00"/><path d="M2.5,83.7 C3.0,85.4 3.8,90.9 5.1,93.8 C6.3,96.8 8.2,98.9 10.1,101.4 C12.0,104.0 14.8,106.5 16.5,109.0 C18.2,111.6 19.7,115.4 20.3,116.6" stroke-opacity="0.80"/><path d="M7.6,38.0 C8.9,38.5 12.5,39.5 15.2,40.6 C18.0,41.6 22.6,43.7 24.1,44.4" stroke-opacity="0.60"/><path d="M15.2,25.4 C15.8,26.6 18.2,30.4 19.0,33.0 C19.9,35.5 20.1,39.3 20.3,40.6" stroke-opacity="0.70"/><path d="M38.0,12.7 C38.2,14.4 39.7,19.4 39.3,22.8 C38.9,26.2 36.1,31.3 35.5,33.0" stroke-opacity="0.70"/><path d="M54.5,24.1 C55.4,25.8 58.7,32.5 59.6,34.2" stroke-opacity="0.70"/><path d="M65.9,38.0 C66.6,36.6 68.2,31.9 69.7,29.2 C71.2,26.4 73.3,23.9 74.8,21.6 C76.3,19.2 78.0,16.3 78.6,15.2" stroke-opacity="0.80"/><path d="M91.3,5.1 C91.9,6.8 94.2,11.8 95.1,15.2 C95.9,18.6 96.1,23.7 96.3,25.4" stroke-opacity="0.70"/><path d="M116.6,3.8 C117.3,5.5 119.2,10.8 120.4,13.9 C121.7,17.1 123.6,21.3 124.2,22.8" stroke-opacity="0.80"/><path d="M96.3,64.7 C96.8,66.3 98.0,71.4 98.9,74.8 C99.7,78.2 100.2,81.6 101.4,84.9 C102.7,88.3 105.6,93.4 106.5,95.1" stroke-opacity="0.70"/><path d="M63.4,15.2 C63.6,16.7 64.4,22.6 64.7,24.1" stroke-opacity="0.60"/><path d="M50.7,7.6 C51.1,8.9 52.8,13.9 53.2,15.2" stroke-opacity="0.60"/><path d="M76.1,101.4 C76.7,103.3 78.8,109.0 79.9,112.8 C80.9,116.6 82.0,122.3 82.4,124.2" stroke-opacity="0.60"/><path d="M100.2,96.3 C101.0,98.3 103.5,104.0 105.2,107.8 C106.9,111.6 109.4,117.3 110.3,119.2" stroke-opacity="0.60"/><path d="M114.1,86.2 C114.7,88.5 116.4,95.9 117.9,100.2 C119.4,104.4 122.1,109.7 123.0,111.6" stroke-opacity="0.60"/><path d="M0.0,34.2 C1.3,34.9 6.3,37.4 7.6,38.0" stroke-opacity="0.60"/><path d="M58.3,106.5 C59.0,108.2 61.3,113.4 62.1,116.6 C63.0,119.9 63.2,124.5 63.4,126.0" stroke-opacity="0.50"/><path d="M88.7,106.5 C89.2,108.2 90.4,113.4 91.3,116.6 C92.1,119.9 93.4,124.5 93.8,126.0" stroke-opacity="0.50"/></g><text font-family="Liberation Sans" font-weight="bold" font-size="11.3" fill="#fff" transform="translate(4.4 15.7) scale(1.0 1)">Fe</text><rect x="2.0" y="109.7" width="32.9" height="1.3" fill="#b4b4b4"/><text x="9.0" y="121.6" font-family="Liberation Sans" font-weight="bold" font-size="9" fill="#eeeeee" stroke="#000" stroke-width="0.7" stroke-opacity="0.45" paint-order="stroke">1 μm</text></svg>
<svg class="pn" style="left:12px;top:284px" width="126" height="127" viewBox="0 0 126 127"><rect width="126" height="127" fill="#0e3c0e"/><g><g transform="rotate(-17 63 63)" opacity="1.0"><rect x="-60" y="-60" width="250" height="250" fill="#000" filter="url(#hA2)"/></g></g><g><g transform="rotate(-17 63 63)" opacity="0.5"><rect x="-60" y="-60" width="250" height="250" fill="#000" filter="url(#hA)"/></g></g><g><g transform="rotate(-17 63 63)" opacity="0.5"><rect x="-60" y="-60" width="250" height="250" fill="#14b814" filter="url(#vA)"/></g></g><g><rect width="127" height="127" fill="#000" opacity="0.4" filter="url(#spkF)"/></g><g fill="none" stroke="#20d820" stroke-width="4.840000000000001" stroke-linecap="round" stroke-linejoin="round" opacity="0.45" filter="url(#b1)"><path d="M0.0,59.6 C0.8,60.2 3.4,61.7 5.1,63.4 C6.8,65.1 8.5,67.4 10.1,69.7 C11.8,72.1 13.5,74.6 15.2,77.3 C16.9,80.1 18.6,83.5 20.3,86.2 C22.0,89.0 23.7,91.3 25.4,93.8 C27.0,96.3 28.7,98.9 30.4,101.4 C32.1,104.0 34.0,106.5 35.5,109.0 C37.0,111.6 38.7,115.4 39.3,116.6" stroke-opacity="1.00"/><path d="M29.2,49.4 C29.3,50.9 29.3,55.6 29.9,58.3 C30.6,61.1 31.7,63.2 33.0,65.9 C34.2,68.7 36.3,71.6 37.5,74.8 C38.8,78.0 39.6,81.8 40.6,84.9 C41.5,88.1 42.0,90.6 43.1,93.8 C44.2,97.0 45.9,100.6 46.9,104.0 C48.0,107.3 49.0,112.4 49.4,114.1" stroke-opacity="1.00"/><path d="M33.0,50.7 C33.8,51.3 36.3,52.8 38.0,54.5 C39.7,56.2 41.8,58.5 43.1,60.9 C44.4,63.2 44.8,65.9 45.6,68.5 C46.5,71.0 47.8,74.8 48.2,76.1" stroke-opacity="0.80"/><path d="M44.4,44.4 C44.8,45.6 46.1,49.2 46.9,52.0 C47.8,54.7 48.4,57.7 49.4,60.9 C50.5,64.0 52.0,68.0 53.2,71.0 C54.5,74.0 55.6,76.3 57.0,78.6 C58.5,80.9 60.2,82.8 62.1,84.9 C64.0,87.1 66.6,89.4 68.5,91.3 C70.4,93.2 72.7,95.5 73.5,96.3" stroke-opacity="1.00"/><path d="M59.6,35.5 C60.2,36.6 62.2,39.5 63.4,41.8 C64.5,44.2 65.6,46.7 66.4,49.4 C67.3,52.2 67.8,55.4 68.5,58.3 C69.1,61.3 69.9,64.2 70.5,67.2 C71.1,70.1 71.7,72.9 72.3,76.1 C72.9,79.2 73.4,82.8 74.0,86.2 C74.7,89.6 75.7,94.7 76.1,96.3" stroke-opacity="1.00"/><path d="M81.1,49.4 C81.6,51.1 82.7,56.4 83.7,59.6 C84.6,62.8 85.4,65.7 86.7,68.5 C88.0,71.2 89.5,74.0 91.3,76.1 C93.1,78.2 95.7,79.9 97.6,81.1 C99.5,82.4 101.8,83.2 102.7,83.7" stroke-opacity="0.90"/><path d="M83.7,24.1 C84.3,25.8 86.3,30.8 87.5,34.2 C88.7,37.6 89.5,41.4 90.8,44.4 C92.0,47.3 93.4,49.4 95.1,52.0 C96.8,54.5 99.0,57.0 100.9,59.6 C102.8,62.1 104.5,64.4 106.5,67.2 C108.5,69.9 111.8,74.6 112.8,76.1" stroke-opacity="1.00"/><path d="M102.7,11.4 C103.3,12.9 105.4,17.1 106.5,20.3 C107.5,23.5 108.2,27.0 109.0,30.4 C109.9,33.8 110.8,37.2 111.6,40.6 C112.3,43.9 112.7,47.8 113.3,50.7 C114.0,53.7 114.4,55.8 115.4,58.3 C116.3,60.9 117.7,63.6 119.2,65.9 C120.6,68.2 123.4,71.2 124.2,72.3" stroke-opacity="1.00"/><path d="M2.5,83.7 C3.0,85.4 3.8,90.9 5.1,93.8 C6.3,96.8 8.2,98.9 10.1,101.4 C12.0,104.0 14.8,106.5 16.5,109.0 C18.2,111.6 19.7,115.4 20.3,116.6" stroke-opacity="0.80"/><path d="M7.6,38.0 C8.9,38.5 12.5,39.5 15.2,40.6 C18.0,41.6 22.6,43.7 24.1,44.4" stroke-opacity="0.60"/><path d="M15.2,25.4 C15.8,26.6 18.2,30.4 19.0,33.0 C19.9,35.5 20.1,39.3 20.3,40.6" stroke-opacity="0.70"/><path d="M38.0,12.7 C38.2,14.4 39.7,19.4 39.3,22.8 C38.9,26.2 36.1,31.3 35.5,33.0" stroke-opacity="0.70"/><path d="M54.5,24.1 C55.4,25.8 58.7,32.5 59.6,34.2" stroke-opacity="0.70"/><path d="M65.9,38.0 C66.6,36.6 68.2,31.9 69.7,29.2 C71.2,26.4 73.3,23.9 74.8,21.6 C76.3,19.2 78.0,16.3 78.6,15.2" stroke-opacity="0.80"/><path d="M91.3,5.1 C91.9,6.8 94.2,11.8 95.1,15.2 C95.9,18.6 96.1,23.7 96.3,25.4" stroke-opacity="0.70"/><path d="M116.6,3.8 C117.3,5.5 119.2,10.8 120.4,13.9 C121.7,17.1 123.6,21.3 124.2,22.8" stroke-opacity="0.80"/><path d="M96.3,64.7 C96.8,66.3 98.0,71.4 98.9,74.8 C99.7,78.2 100.2,81.6 101.4,84.9 C102.7,88.3 105.6,93.4 106.5,95.1" stroke-opacity="0.70"/><path d="M63.4,15.2 C63.6,16.7 64.4,22.6 64.7,24.1" stroke-opacity="0.60"/><path d="M50.7,7.6 C51.1,8.9 52.8,13.9 53.2,15.2" stroke-opacity="0.60"/><path d="M76.1,101.4 C76.7,103.3 78.8,109.0 79.9,112.8 C80.9,116.6 82.0,122.3 82.4,124.2" stroke-opacity="0.60"/><path d="M100.2,96.3 C101.0,98.3 103.5,104.0 105.2,107.8 C106.9,111.6 109.4,117.3 110.3,119.2" stroke-opacity="0.60"/><path d="M114.1,86.2 C114.7,88.5 116.4,95.9 117.9,100.2 C119.4,104.4 122.1,109.7 123.0,111.6" stroke-opacity="0.60"/><path d="M0.0,34.2 C1.3,34.9 6.3,37.4 7.6,38.0" stroke-opacity="0.60"/><path d="M58.3,106.5 C59.0,108.2 61.3,113.4 62.1,116.6 C63.0,119.9 63.2,124.5 63.4,126.0" stroke-opacity="0.50"/><path d="M88.7,106.5 C89.2,108.2 90.4,113.4 91.3,116.6 C92.1,119.9 93.4,124.5 93.8,126.0" stroke-opacity="0.50"/></g><g fill="none" stroke="#20d820" stroke-width="2.2" stroke-linecap="round" stroke-linejoin="round" filter="url(#wig2)"><path d="M0.0,59.6 C0.8,60.2 3.4,61.7 5.1,63.4 C6.8,65.1 8.5,67.4 10.1,69.7 C11.8,72.1 13.5,74.6 15.2,77.3 C16.9,80.1 18.6,83.5 20.3,86.2 C22.0,89.0 23.7,91.3 25.4,93.8 C27.0,96.3 28.7,98.9 30.4,101.4 C32.1,104.0 34.0,106.5 35.5,109.0 C37.0,111.6 38.7,115.4 39.3,116.6" stroke-opacity="1.00"/><path d="M29.2,49.4 C29.3,50.9 29.3,55.6 29.9,58.3 C30.6,61.1 31.7,63.2 33.0,65.9 C34.2,68.7 36.3,71.6 37.5,74.8 C38.8,78.0 39.6,81.8 40.6,84.9 C41.5,88.1 42.0,90.6 43.1,93.8 C44.2,97.0 45.9,100.6 46.9,104.0 C48.0,107.3 49.0,112.4 49.4,114.1" stroke-opacity="1.00"/><path d="M33.0,50.7 C33.8,51.3 36.3,52.8 38.0,54.5 C39.7,56.2 41.8,58.5 43.1,60.9 C44.4,63.2 44.8,65.9 45.6,68.5 C46.5,71.0 47.8,74.8 48.2,76.1" stroke-opacity="0.80"/><path d="M44.4,44.4 C44.8,45.6 46.1,49.2 46.9,52.0 C47.8,54.7 48.4,57.7 49.4,60.9 C50.5,64.0 52.0,68.0 53.2,71.0 C54.5,74.0 55.6,76.3 57.0,78.6 C58.5,80.9 60.2,82.8 62.1,84.9 C64.0,87.1 66.6,89.4 68.5,91.3 C70.4,93.2 72.7,95.5 73.5,96.3" stroke-opacity="1.00"/><path d="M59.6,35.5 C60.2,36.6 62.2,39.5 63.4,41.8 C64.5,44.2 65.6,46.7 66.4,49.4 C67.3,52.2 67.8,55.4 68.5,58.3 C69.1,61.3 69.9,64.2 70.5,67.2 C71.1,70.1 71.7,72.9 72.3,76.1 C72.9,79.2 73.4,82.8 74.0,86.2 C74.7,89.6 75.7,94.7 76.1,96.3" stroke-opacity="1.00"/><path d="M81.1,49.4 C81.6,51.1 82.7,56.4 83.7,59.6 C84.6,62.8 85.4,65.7 86.7,68.5 C88.0,71.2 89.5,74.0 91.3,76.1 C93.1,78.2 95.7,79.9 97.6,81.1 C99.5,82.4 101.8,83.2 102.7,83.7" stroke-opacity="0.90"/><path d="M83.7,24.1 C84.3,25.8 86.3,30.8 87.5,34.2 C88.7,37.6 89.5,41.4 90.8,44.4 C92.0,47.3 93.4,49.4 95.1,52.0 C96.8,54.5 99.0,57.0 100.9,59.6 C102.8,62.1 104.5,64.4 106.5,67.2 C108.5,69.9 111.8,74.6 112.8,76.1" stroke-opacity="1.00"/><path d="M102.7,11.4 C103.3,12.9 105.4,17.1 106.5,20.3 C107.5,23.5 108.2,27.0 109.0,30.4 C109.9,33.8 110.8,37.2 111.6,40.6 C112.3,43.9 112.7,47.8 113.3,50.7 C114.0,53.7 114.4,55.8 115.4,58.3 C116.3,60.9 117.7,63.6 119.2,65.9 C120.6,68.2 123.4,71.2 124.2,72.3" stroke-opacity="1.00"/><path d="M2.5,83.7 C3.0,85.4 3.8,90.9 5.1,93.8 C6.3,96.8 8.2,98.9 10.1,101.4 C12.0,104.0 14.8,106.5 16.5,109.0 C18.2,111.6 19.7,115.4 20.3,116.6" stroke-opacity="0.80"/><path d="M7.6,38.0 C8.9,38.5 12.5,39.5 15.2,40.6 C18.0,41.6 22.6,43.7 24.1,44.4" stroke-opacity="0.60"/><path d="M15.2,25.4 C15.8,26.6 18.2,30.4 19.0,33.0 C19.9,35.5 20.1,39.3 20.3,40.6" stroke-opacity="0.70"/><path d="M38.0,12.7 C38.2,14.4 39.7,19.4 39.3,22.8 C38.9,26.2 36.1,31.3 35.5,33.0" stroke-opacity="0.70"/><path d="M54.5,24.1 C55.4,25.8 58.7,32.5 59.6,34.2" stroke-opacity="0.70"/><path d="M65.9,38.0 C66.6,36.6 68.2,31.9 69.7,29.2 C71.2,26.4 73.3,23.9 74.8,21.6 C76.3,19.2 78.0,16.3 78.6,15.2" stroke-opacity="0.80"/><path d="M91.3,5.1 C91.9,6.8 94.2,11.8 95.1,15.2 C95.9,18.6 96.1,23.7 96.3,25.4" stroke-opacity="0.70"/><path d="M116.6,3.8 C117.3,5.5 119.2,10.8 120.4,13.9 C121.7,17.1 123.6,21.3 124.2,22.8" stroke-opacity="0.80"/><path d="M96.3,64.7 C96.8,66.3 98.0,71.4 98.9,74.8 C99.7,78.2 100.2,81.6 101.4,84.9 C102.7,88.3 105.6,93.4 106.5,95.1" stroke-opacity="0.70"/><path d="M63.4,15.2 C63.6,16.7 64.4,22.6 64.7,24.1" stroke-opacity="0.60"/><path d="M50.7,7.6 C51.1,8.9 52.8,13.9 53.2,15.2" stroke-opacity="0.60"/><path d="M76.1,101.4 C76.7,103.3 78.8,109.0 79.9,112.8 C80.9,116.6 82.0,122.3 82.4,124.2" stroke-opacity="0.60"/><path d="M100.2,96.3 C101.0,98.3 103.5,104.0 105.2,107.8 C106.9,111.6 109.4,117.3 110.3,119.2" stroke-opacity="0.60"/><path d="M114.1,86.2 C114.7,88.5 116.4,95.9 117.9,100.2 C119.4,104.4 122.1,109.7 123.0,111.6" stroke-opacity="0.60"/><path d="M0.0,34.2 C1.3,34.9 6.3,37.4 7.6,38.0" stroke-opacity="0.60"/><path d="M58.3,106.5 C59.0,108.2 61.3,113.4 62.1,116.6 C63.0,119.9 63.2,124.5 63.4,126.0" stroke-opacity="0.50"/><path d="M88.7,106.5 C89.2,108.2 90.4,113.4 91.3,116.6 C92.1,119.9 93.4,124.5 93.8,126.0" stroke-opacity="0.50"/></g><text font-family="Liberation Sans" font-weight="bold" font-size="11.4" fill="#fff" transform="translate(4.5 14.7) scale(1.0 1)">Cu</text><rect x="2.7" y="109.9" width="33.3" height="1.3" fill="#b4b4b4"/><text x="9.7" y="121.3" font-family="Liberation Sans" font-weight="bold" font-size="9" fill="#eeeeee" stroke="#000" stroke-width="0.7" stroke-opacity="0.45" paint-order="stroke">1 μm</text></svg>
<svg class="pn" style="left:143px;top:22px" width="127" height="127" viewBox="0 0 127 127"><rect width="127" height="127" fill="url(#gB1)"/><g><g transform="rotate(-75 63 63)" opacity="0.3"><rect x="-60" y="-60" width="250" height="250" fill="#383838" filter="url(#hB2)"/></g></g><g><g transform="rotate(-75 63 63)" opacity="0.6"><rect x="-60" y="-60" width="250" height="250" fill="#e8e8e8" filter="url(#vB)"/></g></g><g fill="#303030" filter="url(#b2)"><path d="M61.0,0.0 L81.0,0.0 L84.0,10.0 L86.0,22.0 L72.0,23.0 L66.0,14.0 L62.0,6.0 Z" fill-opacity="0.50"/><path d="M72.0,26.0 L87.0,26.0 L89.0,37.0 L80.0,39.0 L74.0,36.0 Z" fill-opacity="0.50"/><path d="M56.0,46.0 L76.0,42.0 L90.0,47.0 L93.0,56.0 L92.0,63.0 L80.0,64.0 L66.0,64.0 L57.0,60.0 Z" fill-opacity="0.50"/><path d="M57.0,70.0 L66.0,66.0 L80.0,64.0 L84.0,70.0 L84.0,80.0 L78.0,87.0 L66.0,91.0 L57.0,92.0 Z" fill-opacity="0.50"/><path d="M63.0,98.0 L75.0,93.0 L85.0,88.0 L90.0,88.0 L92.0,100.0 L93.0,112.0 L80.0,114.0 L66.0,113.0 L62.0,106.0 Z" fill-opacity="0.42"/><path d="M92.0,63.0 L99.0,63.0 L101.0,76.0 L106.0,95.0 L110.0,114.0 L111.0,127.0 L101.0,127.0 L99.0,116.0 L96.0,104.0 L94.0,88.0 L90.0,80.0 Z" fill-opacity="0.50"/><path d="M8.0,79.0 L16.0,77.0 L17.0,86.0 L10.0,89.0 Z" fill-opacity="0.40"/><path d="M26.0,93.0 L37.0,87.0 L39.0,100.0 L30.0,104.0 Z" fill-opacity="0.40"/><path d="M42.0,76.0 L53.0,72.0 L53.0,88.0 L46.0,94.0 Z" fill-opacity="0.40"/><path d="M20.0,106.0 L32.0,106.0 L33.0,113.0 L20.0,114.0 Z" fill-opacity="0.30"/><path d="M8.0,21.0 L21.0,21.0 L21.0,29.0 L9.0,29.0 Z" fill-opacity="0.30"/><path d="M23.0,22.0 L37.0,22.0 L37.0,32.0 L25.0,32.0 Z" fill-opacity="0.30"/><path d="M45.0,13.0 L62.0,13.0 L62.0,24.0 L46.0,25.0 Z" fill-opacity="0.25"/></g><path d="M62,0 L85,0 L91,30 L97,60 L105,95 L111,127 L93,127 L87,95 L79,60 L70,30 Z" fill="#5e5e5e" filter="url(#b3)"/><g clip-path="url(#cBspk)"><g><rect width="127" height="127" opacity="1.0" filter="url(#nStB)"/></g><rect x="110" width="17" height="127" fill="#b0b0b0" opacity="0.3" filter="url(#b6)"/><path d="M84,33 L100,36 L108,48 L100,58 L90,56 Z" fill="#505050" opacity="0.8" filter="url(#b3)"/></g><g fill="none" stroke="#e8e8e8" stroke-width="3.3000000000000003" stroke-linecap="round" stroke-linejoin="round" opacity="0.35" filter="url(#b1)"><path d="M22.6,20.1 C23.7,20.0 26.4,19.7 28.9,19.5 C31.4,19.3 36.2,19.0 37.7,18.9" stroke-opacity="0.80"/><path d="M30.2,10.1 C30.8,9.5 33.0,7.6 34.0,6.3 C35.0,5.0 36.1,3.1 36.5,2.5" stroke-opacity="0.64"/><path d="M39.0,34.0 C40.5,33.4 45.1,31.4 47.8,30.2 C50.5,29.0 52.9,27.9 55.3,27.0 C57.7,26.1 59.7,25.7 62.3,25.1 C64.9,24.5 69.5,23.5 71.0,23.2" stroke-opacity="0.80"/><path d="M37.7,44.0 C38.8,43.8 41.5,43.2 44.0,42.8 C46.5,42.4 49.5,42.4 52.8,41.5 C56.0,40.6 59.8,38.2 63.5,37.7 C67.2,37.2 71.5,37.7 74.8,38.3 C78.1,38.9 81.1,40.4 83.6,41.5 C86.1,42.6 87.6,44.2 89.9,45.2 C92.2,46.2 96.2,47.3 97.5,47.7" stroke-opacity="0.80"/><path d="M37.7,42.8 C38.1,43.6 39.2,46.3 40.3,47.8 C41.3,49.3 42.8,50.5 44.0,51.6 C45.2,52.7 47.2,53.7 47.8,54.1" stroke-opacity="0.72"/><path d="M3.8,40.3 C4.8,40.3 8.0,40.1 10.1,40.3 C12.2,40.5 15.3,41.3 16.4,41.5" stroke-opacity="0.48"/><path d="M21.4,49.0 C22.6,49.2 26.4,50.2 28.9,50.3 C31.4,50.4 35.2,49.8 36.5,49.7" stroke-opacity="0.56"/><path d="M41.5,0.0 C42.5,0.6 45.9,2.5 47.8,3.8 C49.7,5.0 51.3,7.5 52.8,7.5 C54.3,7.5 56.0,4.4 56.6,3.8" stroke-opacity="0.56"/><path d="M5.0,17.6 C5.4,18.4 7.3,20.7 7.5,22.6 C7.7,24.5 6.5,27.8 6.3,28.9" stroke-opacity="0.48"/><path d="M15.1,28.9 C15.7,29.5 17.8,31.4 18.9,32.7 C19.9,34.0 21.0,35.9 21.4,36.5" stroke-opacity="0.48"/><path d="M2.5,54.1 C3.5,54.3 6.5,54.7 8.8,55.3 C11.1,55.9 15.1,57.5 16.4,57.9" stroke-opacity="0.48"/><path d="M28.9,28.9 C29.5,29.5 32.3,31.0 32.7,32.7 C33.1,34.4 31.8,37.1 31.4,39.0 C31.0,40.9 30.4,43.2 30.2,44.0" stroke-opacity="0.48"/><path d="M56.0,6.3 C56.8,6.5 59.3,7.1 61.0,7.5 C62.7,7.9 65.2,8.6 66.0,8.8" stroke-opacity="0.64"/><path d="M3.8,91.1 C4.9,90.2 8.1,87.5 10.2,86.0 C12.3,84.5 14.5,83.3 16.6,82.2 C18.7,81.1 20.9,80.5 23.0,79.6 C25.1,78.7 27.3,77.8 29.4,77.0 C31.5,76.2 34.3,75.1 35.8,74.5 C37.3,73.9 36.8,73.8 38.3,73.2 C39.8,72.6 42.6,71.3 44.7,70.7 C46.8,70.1 49.0,69.8 51.1,69.4 C53.2,69.0 55.6,68.6 57.5,68.1 C59.4,67.6 60.5,67.0 62.4,66.2 C64.3,65.5 67.7,64.0 68.8,63.6" stroke-opacity="0.80"/><path d="M7.7,98.8 C8.6,98.4 10.9,97.3 12.8,96.2 C14.7,95.1 17.1,93.7 19.2,92.4 C21.3,91.1 23.4,89.8 25.5,88.5 C27.6,87.2 29.8,85.8 31.9,84.7 C34.0,83.7 36.4,83.1 38.3,82.2 C40.2,81.3 42.5,80.0 43.4,79.6" stroke-opacity="0.80"/><path d="M19.2,103.9 C20.2,103.1 23.4,100.5 25.5,98.8 C27.6,97.1 29.8,95.4 31.9,93.7 C34.0,92.0 36.2,90.0 38.3,88.5 C40.4,87.0 42.6,85.8 44.7,84.7 C46.8,83.7 49.4,82.4 51.1,82.2 C52.8,82.0 54.3,83.2 54.9,83.4" stroke-opacity="0.64"/><path d="M53.6,82.2 C53.6,83.2 54.0,86.4 53.6,88.5 C53.2,90.6 52.0,93.2 51.1,94.9 C50.2,96.6 49.8,97.7 48.5,98.8 C47.2,99.9 45.5,100.4 43.4,101.3 C41.3,102.2 37.7,103.3 35.8,103.9 C33.9,104.5 32.5,104.9 31.9,105.1" stroke-opacity="0.72"/><path d="M48.5,97.5 C49.4,97.3 51.7,96.8 53.6,96.2 C55.5,95.6 58.4,94.3 60.0,93.7 C61.6,93.1 62.5,92.6 63.0,92.4" stroke-opacity="0.56"/><path d="M51.1,101.3 C51.7,101.7 53.4,103.1 54.9,103.9 C56.4,104.8 58.6,105.6 60.0,106.4 C61.4,107.2 62.5,108.6 63.0,109.0" stroke-opacity="0.56"/><path d="M5.1,75.8 C5.9,75.6 8.5,75.1 10.2,74.5 C11.9,73.9 13.8,72.8 15.3,72.0 C16.8,71.2 17.5,70.3 19.2,69.4 C20.9,68.5 24.4,67.2 25.5,66.8" stroke-opacity="0.56"/><path d="M38.3,119.2 C39.1,119.2 42.5,119.2 43.4,119.2" stroke-opacity="0.80"/><path d="M42.1,63.0 C42.8,63.9 45.4,67.2 46.0,68.1" stroke-opacity="0.48"/><path d="M56.0,97.5 C57.1,97.0 60.3,95.1 62.4,94.3 C64.5,93.5 66.7,93.2 68.8,92.4 C70.9,91.7 73.1,90.9 75.2,89.8 C77.3,88.7 79.6,87.1 81.5,86.0 C83.4,84.9 85.2,84.0 86.7,83.4 C88.2,82.8 89.9,82.4 90.5,82.2" stroke-opacity="0.80"/><path d="M90.5,82.2 C90.9,83.2 92.4,86.4 93.0,88.5 C93.6,90.6 93.9,92.8 94.3,94.9 C94.7,97.0 95.2,99.2 95.6,101.3 C96.0,103.4 96.3,105.6 96.9,107.7 C97.5,109.8 98.3,112.4 99.4,114.1 C100.5,115.8 102.7,117.3 103.3,117.9" stroke-opacity="0.72"/><path d="M59.8,117.9 C61.3,117.8 65.8,117.5 68.8,117.3 C71.8,117.1 74.9,116.9 77.7,116.6 C80.5,116.3 82.6,115.6 85.4,115.4 C88.2,115.2 92.8,115.4 94.3,115.4" stroke-opacity="0.64"/><path d="M61.1,109.0 C61.7,109.2 64.3,110.1 64.9,110.3" stroke-opacity="0.80"/><path d="M81.5,78.3 C81.9,77.9 83.4,77.1 84.1,75.8 C84.8,74.5 85.4,72.4 85.4,70.7 C85.4,69.0 84.3,66.4 84.1,65.6" stroke-opacity="0.56"/><path d="M56.0,101.3 C56.6,101.7 58.7,102.8 59.8,103.9 C60.9,105.0 62.0,107.1 62.4,107.7" stroke-opacity="0.48"/></g><g fill="none" stroke="#e8e8e8" stroke-width="1.5" stroke-linecap="round" stroke-linejoin="round" filter="url(#b07)"><path d="M22.6,20.1 C23.7,20.0 26.4,19.7 28.9,19.5 C31.4,19.3 36.2,19.0 37.7,18.9" stroke-opacity="0.80"/><path d="M30.2,10.1 C30.8,9.5 33.0,7.6 34.0,6.3 C35.0,5.0 36.1,3.1 36.5,2.5" stroke-opacity="0.64"/><path d="M39.0,34.0 C40.5,33.4 45.1,31.4 47.8,30.2 C50.5,29.0 52.9,27.9 55.3,27.0 C57.7,26.1 59.7,25.7 62.3,25.1 C64.9,24.5 69.5,23.5 71.0,23.2" stroke-opacity="0.80"/><path d="M37.7,44.0 C38.8,43.8 41.5,43.2 44.0,42.8 C46.5,42.4 49.5,42.4 52.8,41.5 C56.0,40.6 59.8,38.2 63.5,37.7 C67.2,37.2 71.5,37.7 74.8,38.3 C78.1,38.9 81.1,40.4 83.6,41.5 C86.1,42.6 87.6,44.2 89.9,45.2 C92.2,46.2 96.2,47.3 97.5,47.7" stroke-opacity="0.80"/><path d="M37.7,42.8 C38.1,43.6 39.2,46.3 40.3,47.8 C41.3,49.3 42.8,50.5 44.0,51.6 C45.2,52.7 47.2,53.7 47.8,54.1" stroke-opacity="0.72"/><path d="M3.8,40.3 C4.8,40.3 8.0,40.1 10.1,40.3 C12.2,40.5 15.3,41.3 16.4,41.5" stroke-opacity="0.48"/><path d="M21.4,49.0 C22.6,49.2 26.4,50.2 28.9,50.3 C31.4,50.4 35.2,49.8 36.5,49.7" stroke-opacity="0.56"/><path d="M41.5,0.0 C42.5,0.6 45.9,2.5 47.8,3.8 C49.7,5.0 51.3,7.5 52.8,7.5 C54.3,7.5 56.0,4.4 56.6,3.8" stroke-opacity="0.56"/><path d="M5.0,17.6 C5.4,18.4 7.3,20.7 7.5,22.6 C7.7,24.5 6.5,27.8 6.3,28.9" stroke-opacity="0.48"/><path d="M15.1,28.9 C15.7,29.5 17.8,31.4 18.9,32.7 C19.9,34.0 21.0,35.9 21.4,36.5" stroke-opacity="0.48"/><path d="M2.5,54.1 C3.5,54.3 6.5,54.7 8.8,55.3 C11.1,55.9 15.1,57.5 16.4,57.9" stroke-opacity="0.48"/><path d="M28.9,28.9 C29.5,29.5 32.3,31.0 32.7,32.7 C33.1,34.4 31.8,37.1 31.4,39.0 C31.0,40.9 30.4,43.2 30.2,44.0" stroke-opacity="0.48"/><path d="M56.0,6.3 C56.8,6.5 59.3,7.1 61.0,7.5 C62.7,7.9 65.2,8.6 66.0,8.8" stroke-opacity="0.64"/><path d="M3.8,91.1 C4.9,90.2 8.1,87.5 10.2,86.0 C12.3,84.5 14.5,83.3 16.6,82.2 C18.7,81.1 20.9,80.5 23.0,79.6 C25.1,78.7 27.3,77.8 29.4,77.0 C31.5,76.2 34.3,75.1 35.8,74.5 C37.3,73.9 36.8,73.8 38.3,73.2 C39.8,72.6 42.6,71.3 44.7,70.7 C46.8,70.1 49.0,69.8 51.1,69.4 C53.2,69.0 55.6,68.6 57.5,68.1 C59.4,67.6 60.5,67.0 62.4,66.2 C64.3,65.5 67.7,64.0 68.8,63.6" stroke-opacity="0.80"/><path d="M7.7,98.8 C8.6,98.4 10.9,97.3 12.8,96.2 C14.7,95.1 17.1,93.7 19.2,92.4 C21.3,91.1 23.4,89.8 25.5,88.5 C27.6,87.2 29.8,85.8 31.9,84.7 C34.0,83.7 36.4,83.1 38.3,82.2 C40.2,81.3 42.5,80.0 43.4,79.6" stroke-opacity="0.80"/><path d="M19.2,103.9 C20.2,103.1 23.4,100.5 25.5,98.8 C27.6,97.1 29.8,95.4 31.9,93.7 C34.0,92.0 36.2,90.0 38.3,88.5 C40.4,87.0 42.6,85.8 44.7,84.7 C46.8,83.7 49.4,82.4 51.1,82.2 C52.8,82.0 54.3,83.2 54.9,83.4" stroke-opacity="0.64"/><path d="M53.6,82.2 C53.6,83.2 54.0,86.4 53.6,88.5 C53.2,90.6 52.0,93.2 51.1,94.9 C50.2,96.6 49.8,97.7 48.5,98.8 C47.2,99.9 45.5,100.4 43.4,101.3 C41.3,102.2 37.7,103.3 35.8,103.9 C33.9,104.5 32.5,104.9 31.9,105.1" stroke-opacity="0.72"/><path d="M48.5,97.5 C49.4,97.3 51.7,96.8 53.6,96.2 C55.5,95.6 58.4,94.3 60.0,93.7 C61.6,93.1 62.5,92.6 63.0,92.4" stroke-opacity="0.56"/><path d="M51.1,101.3 C51.7,101.7 53.4,103.1 54.9,103.9 C56.4,104.8 58.6,105.6 60.0,106.4 C61.4,107.2 62.5,108.6 63.0,109.0" stroke-opacity="0.56"/><path d="M5.1,75.8 C5.9,75.6 8.5,75.1 10.2,74.5 C11.9,73.9 13.8,72.8 15.3,72.0 C16.8,71.2 17.5,70.3 19.2,69.4 C20.9,68.5 24.4,67.2 25.5,66.8" stroke-opacity="0.56"/><path d="M38.3,119.2 C39.1,119.2 42.5,119.2 43.4,119.2" stroke-opacity="0.80"/><path d="M42.1,63.0 C42.8,63.9 45.4,67.2 46.0,68.1" stroke-opacity="0.48"/><path d="M56.0,97.5 C57.1,97.0 60.3,95.1 62.4,94.3 C64.5,93.5 66.7,93.2 68.8,92.4 C70.9,91.7 73.1,90.9 75.2,89.8 C77.3,88.7 79.6,87.1 81.5,86.0 C83.4,84.9 85.2,84.0 86.7,83.4 C88.2,82.8 89.9,82.4 90.5,82.2" stroke-opacity="0.80"/><path d="M90.5,82.2 C90.9,83.2 92.4,86.4 93.0,88.5 C93.6,90.6 93.9,92.8 94.3,94.9 C94.7,97.0 95.2,99.2 95.6,101.3 C96.0,103.4 96.3,105.6 96.9,107.7 C97.5,109.8 98.3,112.4 99.4,114.1 C100.5,115.8 102.7,117.3 103.3,117.9" stroke-opacity="0.72"/><path d="M59.8,117.9 C61.3,117.8 65.8,117.5 68.8,117.3 C71.8,117.1 74.9,116.9 77.7,116.6 C80.5,116.3 82.6,115.6 85.4,115.4 C88.2,115.2 92.8,115.4 94.3,115.4" stroke-opacity="0.64"/><path d="M61.1,109.0 C61.7,109.2 64.3,110.1 64.9,110.3" stroke-opacity="0.80"/><path d="M81.5,78.3 C81.9,77.9 83.4,77.1 84.1,75.8 C84.8,74.5 85.4,72.4 85.4,70.7 C85.4,69.0 84.3,66.4 84.1,65.6" stroke-opacity="0.56"/><path d="M56.0,101.3 C56.6,101.7 58.7,102.8 59.8,103.9 C60.9,105.0 62.0,107.1 62.4,107.7" stroke-opacity="0.48"/></g><rect width="127" height="1" fill="#333"/><rect width="1.5" height="127" fill="#777"/><rect x="3.9" y="110.9" width="31.4" height="1.3" fill="#b4b4b4"/><text x="4.3" y="121.8" font-family="Liberation Sans" font-weight="bold" font-size="9" fill="#eeeeee" stroke="#000" stroke-width="0.7" stroke-opacity="0.45" paint-order="stroke">500 nm</text></svg>
<svg class="pn" style="left:144px;top:153px" width="127" height="127" viewBox="0 0 127 127"><rect width="127" height="127" fill="#4a4a00"/><g clip-path="url(#cBnet)"><g transform="rotate(-75 63 63)" opacity="1.0"><rect x="-60" y="-60" width="250" height="250" fill="#000" filter="url(#hB2)"/></g></g><g clip-path="url(#cBnet)"><g transform="rotate(-75 63 63)" opacity="0.75"><rect x="-60" y="-60" width="250" height="250" fill="#d8d800" filter="url(#vB)"/></g></g><g clip-path="url(#cBnet)"><rect width="127" height="127" fill="#000" opacity="0.35" filter="url(#spkF)"/></g><g clip-path="url(#cBspk)"><g><rect width="127" height="127" opacity="1.0" filter="url(#nFeB)"/></g></g><g fill="#000" filter="url(#b2)"><path d="M61.0,0.0 L81.0,0.0 L84.0,10.0 L86.0,22.0 L72.0,23.0 L66.0,14.0 L62.0,6.0 Z" fill-opacity="1.00"/><path d="M72.0,26.0 L87.0,26.0 L89.0,37.0 L80.0,39.0 L74.0,36.0 Z" fill-opacity="1.00"/><path d="M56.0,46.0 L76.0,42.0 L90.0,47.0 L93.0,56.0 L92.0,63.0 L80.0,64.0 L66.0,64.0 L57.0,60.0 Z" fill-opacity="1.00"/><path d="M57.0,70.0 L66.0,66.0 L80.0,64.0 L84.0,70.0 L84.0,80.0 L78.0,87.0 L66.0,91.0 L57.0,92.0 Z" fill-opacity="1.00"/><path d="M63.0,98.0 L75.0,93.0 L85.0,88.0 L90.0,88.0 L92.0,100.0 L93.0,112.0 L80.0,114.0 L66.0,113.0 L62.0,106.0 Z" fill-opacity="0.85"/><path d="M92.0,63.0 L99.0,63.0 L101.0,76.0 L106.0,95.0 L110.0,114.0 L111.0,127.0 L101.0,127.0 L99.0,116.0 L96.0,104.0 L94.0,88.0 L90.0,80.0 Z" fill-opacity="1.00"/><path d="M8.0,79.0 L16.0,77.0 L17.0,86.0 L10.0,89.0 Z" fill-opacity="0.80"/><path d="M26.0,93.0 L37.0,87.0 L39.0,100.0 L30.0,104.0 Z" fill-opacity="0.80"/><path d="M42.0,76.0 L53.0,72.0 L53.0,88.0 L46.0,94.0 Z" fill-opacity="0.80"/><path d="M20.0,106.0 L32.0,106.0 L33.0,113.0 L20.0,114.0 Z" fill-opacity="0.60"/><path d="M8.0,21.0 L21.0,21.0 L21.0,29.0 L9.0,29.0 Z" fill-opacity="0.60"/><path d="M23.0,22.0 L37.0,22.0 L37.0,32.0 L25.0,32.0 Z" fill-opacity="0.60"/><path d="M45.0,13.0 L62.0,13.0 L62.0,24.0 L46.0,25.0 Z" fill-opacity="0.50"/></g><g fill="none" stroke="#f4f414" stroke-width="5.28" stroke-linecap="round" stroke-linejoin="round" opacity="0.45" filter="url(#b1)"><path d="M22.6,20.1 C23.7,20.0 26.4,19.7 28.9,19.5 C31.4,19.3 36.2,19.0 37.7,18.9" stroke-opacity="1.00"/><path d="M30.2,10.1 C30.8,9.5 33.0,7.6 34.0,6.3 C35.0,5.0 36.1,3.1 36.5,2.5" stroke-opacity="0.80"/><path d="M39.0,34.0 C40.5,33.4 45.1,31.4 47.8,30.2 C50.5,29.0 52.9,27.9 55.3,27.0 C57.7,26.1 59.7,25.7 62.3,25.1 C64.9,24.5 69.5,23.5 71.0,23.2" stroke-opacity="1.00"/><path d="M37.7,44.0 C38.8,43.8 41.5,43.2 44.0,42.8 C46.5,42.4 49.5,42.4 52.8,41.5 C56.0,40.6 59.8,38.2 63.5,37.7 C67.2,37.2 71.5,37.7 74.8,38.3 C78.1,38.9 81.1,40.4 83.6,41.5 C86.1,42.6 87.6,44.2 89.9,45.2 C92.2,46.2 96.2,47.3 97.5,47.7" stroke-opacity="1.00"/><path d="M37.7,42.8 C38.1,43.6 39.2,46.3 40.3,47.8 C41.3,49.3 42.8,50.5 44.0,51.6 C45.2,52.7 47.2,53.7 47.8,54.1" stroke-opacity="0.90"/><path d="M3.8,40.3 C4.8,40.3 8.0,40.1 10.1,40.3 C12.2,40.5 15.3,41.3 16.4,41.5" stroke-opacity="0.60"/><path d="M21.4,49.0 C22.6,49.2 26.4,50.2 28.9,50.3 C31.4,50.4 35.2,49.8 36.5,49.7" stroke-opacity="0.70"/><path d="M41.5,0.0 C42.5,0.6 45.9,2.5 47.8,3.8 C49.7,5.0 51.3,7.5 52.8,7.5 C54.3,7.5 56.0,4.4 56.6,3.8" stroke-opacity="0.70"/><path d="M5.0,17.6 C5.4,18.4 7.3,20.7 7.5,22.6 C7.7,24.5 6.5,27.8 6.3,28.9" stroke-opacity="0.60"/><path d="M15.1,28.9 C15.7,29.5 17.8,31.4 18.9,32.7 C19.9,34.0 21.0,35.9 21.4,36.5" stroke-opacity="0.60"/><path d="M2.5,54.1 C3.5,54.3 6.5,54.7 8.8,55.3 C11.1,55.9 15.1,57.5 16.4,57.9" stroke-opacity="0.60"/><path d="M28.9,28.9 C29.5,29.5 32.3,31.0 32.7,32.7 C33.1,34.4 31.8,37.1 31.4,39.0 C31.0,40.9 30.4,43.2 30.2,44.0" stroke-opacity="0.60"/><path d="M56.0,6.3 C56.8,6.5 59.3,7.1 61.0,7.5 C62.7,7.9 65.2,8.6 66.0,8.8" stroke-opacity="0.80"/><path d="M3.8,91.1 C4.9,90.2 8.1,87.5 10.2,86.0 C12.3,84.5 14.5,83.3 16.6,82.2 C18.7,81.1 20.9,80.5 23.0,79.6 C25.1,78.7 27.3,77.8 29.4,77.0 C31.5,76.2 34.3,75.1 35.8,74.5 C37.3,73.9 36.8,73.8 38.3,73.2 C39.8,72.6 42.6,71.3 44.7,70.7 C46.8,70.1 49.0,69.8 51.1,69.4 C53.2,69.0 55.6,68.6 57.5,68.1 C59.4,67.6 60.5,67.0 62.4,66.2 C64.3,65.5 67.7,64.0 68.8,63.6" stroke-opacity="1.00"/><path d="M7.7,98.8 C8.6,98.4 10.9,97.3 12.8,96.2 C14.7,95.1 17.1,93.7 19.2,92.4 C21.3,91.1 23.4,89.8 25.5,88.5 C27.6,87.2 29.8,85.8 31.9,84.7 C34.0,83.7 36.4,83.1 38.3,82.2 C40.2,81.3 42.5,80.0 43.4,79.6" stroke-opacity="1.00"/><path d="M19.2,103.9 C20.2,103.1 23.4,100.5 25.5,98.8 C27.6,97.1 29.8,95.4 31.9,93.7 C34.0,92.0 36.2,90.0 38.3,88.5 C40.4,87.0 42.6,85.8 44.7,84.7 C46.8,83.7 49.4,82.4 51.1,82.2 C52.8,82.0 54.3,83.2 54.9,83.4" stroke-opacity="0.80"/><path d="M53.6,82.2 C53.6,83.2 54.0,86.4 53.6,88.5 C53.2,90.6 52.0,93.2 51.1,94.9 C50.2,96.6 49.8,97.7 48.5,98.8 C47.2,99.9 45.5,100.4 43.4,101.3 C41.3,102.2 37.7,103.3 35.8,103.9 C33.9,104.5 32.5,104.9 31.9,105.1" stroke-opacity="0.90"/><path d="M48.5,97.5 C49.4,97.3 51.7,96.8 53.6,96.2 C55.5,95.6 58.4,94.3 60.0,93.7 C61.6,93.1 62.5,92.6 63.0,92.4" stroke-opacity="0.70"/><path d="M51.1,101.3 C51.7,101.7 53.4,103.1 54.9,103.9 C56.4,104.8 58.6,105.6 60.0,106.4 C61.4,107.2 62.5,108.6 63.0,109.0" stroke-opacity="0.70"/><path d="M5.1,75.8 C5.9,75.6 8.5,75.1 10.2,74.5 C11.9,73.9 13.8,72.8 15.3,72.0 C16.8,71.2 17.5,70.3 19.2,69.4 C20.9,68.5 24.4,67.2 25.5,66.8" stroke-opacity="0.70"/><path d="M38.3,119.2 C39.1,119.2 42.5,119.2 43.4,119.2" stroke-opacity="1.00"/><path d="M42.1,63.0 C42.8,63.9 45.4,67.2 46.0,68.1" stroke-opacity="0.60"/><path d="M56.0,97.5 C57.1,97.0 60.3,95.1 62.4,94.3 C64.5,93.5 66.7,93.2 68.8,92.4 C70.9,91.7 73.1,90.9 75.2,89.8 C77.3,88.7 79.6,87.1 81.5,86.0 C83.4,84.9 85.2,84.0 86.7,83.4 C88.2,82.8 89.9,82.4 90.5,82.2" stroke-opacity="1.00"/><path d="M90.5,82.2 C90.9,83.2 92.4,86.4 93.0,88.5 C93.6,90.6 93.9,92.8 94.3,94.9 C94.7,97.0 95.2,99.2 95.6,101.3 C96.0,103.4 96.3,105.6 96.9,107.7 C97.5,109.8 98.3,112.4 99.4,114.1 C100.5,115.8 102.7,117.3 103.3,117.9" stroke-opacity="0.90"/><path d="M59.8,117.9 C61.3,117.8 65.8,117.5 68.8,117.3 C71.8,117.1 74.9,116.9 77.7,116.6 C80.5,116.3 82.6,115.6 85.4,115.4 C88.2,115.2 92.8,115.4 94.3,115.4" stroke-opacity="0.80"/><path d="M61.1,109.0 C61.7,109.2 64.3,110.1 64.9,110.3" stroke-opacity="1.00"/><path d="M81.5,78.3 C81.9,77.9 83.4,77.1 84.1,75.8 C84.8,74.5 85.4,72.4 85.4,70.7 C85.4,69.0 84.3,66.4 84.1,65.6" stroke-opacity="0.70"/><path d="M56.0,101.3 C56.6,101.7 58.7,102.8 59.8,103.9 C60.9,105.0 62.0,107.1 62.4,107.7" stroke-opacity="0.60"/></g><g fill="none" stroke="#f4f414" stroke-width="2.4" stroke-linecap="round" stroke-linejoin="round" filter="url(#wig2)"><path d="M22.6,20.1 C23.7,20.0 26.4,19.7 28.9,19.5 C31.4,19.3 36.2,19.0 37.7,18.9" stroke-opacity="1.00"/><path d="M30.2,10.1 C30.8,9.5 33.0,7.6 34.0,6.3 C35.0,5.0 36.1,3.1 36.5,2.5" stroke-opacity="0.80"/><path d="M39.0,34.0 C40.5,33.4 45.1,31.4 47.8,30.2 C50.5,29.0 52.9,27.9 55.3,27.0 C57.7,26.1 59.7,25.7 62.3,25.1 C64.9,24.5 69.5,23.5 71.0,23.2" stroke-opacity="1.00"/><path d="M37.7,44.0 C38.8,43.8 41.5,43.2 44.0,42.8 C46.5,42.4 49.5,42.4 52.8,41.5 C56.0,40.6 59.8,38.2 63.5,37.7 C67.2,37.2 71.5,37.7 74.8,38.3 C78.1,38.9 81.1,40.4 83.6,41.5 C86.1,42.6 87.6,44.2 89.9,45.2 C92.2,46.2 96.2,47.3 97.5,47.7" stroke-opacity="1.00"/><path d="M37.7,42.8 C38.1,43.6 39.2,46.3 40.3,47.8 C41.3,49.3 42.8,50.5 44.0,51.6 C45.2,52.7 47.2,53.7 47.8,54.1" stroke-opacity="0.90"/><path d="M3.8,40.3 C4.8,40.3 8.0,40.1 10.1,40.3 C12.2,40.5 15.3,41.3 16.4,41.5" stroke-opacity="0.60"/><path d="M21.4,49.0 C22.6,49.2 26.4,50.2 28.9,50.3 C31.4,50.4 35.2,49.8 36.5,49.7" stroke-opacity="0.70"/><path d="M41.5,0.0 C42.5,0.6 45.9,2.5 47.8,3.8 C49.7,5.0 51.3,7.5 52.8,7.5 C54.3,7.5 56.0,4.4 56.6,3.8" stroke-opacity="0.70"/><path d="M5.0,17.6 C5.4,18.4 7.3,20.7 7.5,22.6 C7.7,24.5 6.5,27.8 6.3,28.9" stroke-opacity="0.60"/><path d="M15.1,28.9 C15.7,29.5 17.8,31.4 18.9,32.7 C19.9,34.0 21.0,35.9 21.4,36.5" stroke-opacity="0.60"/><path d="M2.5,54.1 C3.5,54.3 6.5,54.7 8.8,55.3 C11.1,55.9 15.1,57.5 16.4,57.9" stroke-opacity="0.60"/><path d="M28.9,28.9 C29.5,29.5 32.3,31.0 32.7,32.7 C33.1,34.4 31.8,37.1 31.4,39.0 C31.0,40.9 30.4,43.2 30.2,44.0" stroke-opacity="0.60"/><path d="M56.0,6.3 C56.8,6.5 59.3,7.1 61.0,7.5 C62.7,7.9 65.2,8.6 66.0,8.8" stroke-opacity="0.80"/><path d="M3.8,91.1 C4.9,90.2 8.1,87.5 10.2,86.0 C12.3,84.5 14.5,83.3 16.6,82.2 C18.7,81.1 20.9,80.5 23.0,79.6 C25.1,78.7 27.3,77.8 29.4,77.0 C31.5,76.2 34.3,75.1 35.8,74.5 C37.3,73.9 36.8,73.8 38.3,73.2 C39.8,72.6 42.6,71.3 44.7,70.7 C46.8,70.1 49.0,69.8 51.1,69.4 C53.2,69.0 55.6,68.6 57.5,68.1 C59.4,67.6 60.5,67.0 62.4,66.2 C64.3,65.5 67.7,64.0 68.8,63.6" stroke-opacity="1.00"/><path d="M7.7,98.8 C8.6,98.4 10.9,97.3 12.8,96.2 C14.7,95.1 17.1,93.7 19.2,92.4 C21.3,91.1 23.4,89.8 25.5,88.5 C27.6,87.2 29.8,85.8 31.9,84.7 C34.0,83.7 36.4,83.1 38.3,82.2 C40.2,81.3 42.5,80.0 43.4,79.6" stroke-opacity="1.00"/><path d="M19.2,103.9 C20.2,103.1 23.4,100.5 25.5,98.8 C27.6,97.1 29.8,95.4 31.9,93.7 C34.0,92.0 36.2,90.0 38.3,88.5 C40.4,87.0 42.6,85.8 44.7,84.7 C46.8,83.7 49.4,82.4 51.1,82.2 C52.8,82.0 54.3,83.2 54.9,83.4" stroke-opacity="0.80"/><path d="M53.6,82.2 C53.6,83.2 54.0,86.4 53.6,88.5 C53.2,90.6 52.0,93.2 51.1,94.9 C50.2,96.6 49.8,97.7 48.5,98.8 C47.2,99.9 45.5,100.4 43.4,101.3 C41.3,102.2 37.7,103.3 35.8,103.9 C33.9,104.5 32.5,104.9 31.9,105.1" stroke-opacity="0.90"/><path d="M48.5,97.5 C49.4,97.3 51.7,96.8 53.6,96.2 C55.5,95.6 58.4,94.3 60.0,93.7 C61.6,93.1 62.5,92.6 63.0,92.4" stroke-opacity="0.70"/><path d="M51.1,101.3 C51.7,101.7 53.4,103.1 54.9,103.9 C56.4,104.8 58.6,105.6 60.0,106.4 C61.4,107.2 62.5,108.6 63.0,109.0" stroke-opacity="0.70"/><path d="M5.1,75.8 C5.9,75.6 8.5,75.1 10.2,74.5 C11.9,73.9 13.8,72.8 15.3,72.0 C16.8,71.2 17.5,70.3 19.2,69.4 C20.9,68.5 24.4,67.2 25.5,66.8" stroke-opacity="0.70"/><path d="M38.3,119.2 C39.1,119.2 42.5,119.2 43.4,119.2" stroke-opacity="1.00"/><path d="M42.1,63.0 C42.8,63.9 45.4,67.2 46.0,68.1" stroke-opacity="0.60"/><path d="M56.0,97.5 C57.1,97.0 60.3,95.1 62.4,94.3 C64.5,93.5 66.7,93.2 68.8,92.4 C70.9,91.7 73.1,90.9 75.2,89.8 C77.3,88.7 79.6,87.1 81.5,86.0 C83.4,84.9 85.2,84.0 86.7,83.4 C88.2,82.8 89.9,82.4 90.5,82.2" stroke-opacity="1.00"/><path d="M90.5,82.2 C90.9,83.2 92.4,86.4 93.0,88.5 C93.6,90.6 93.9,92.8 94.3,94.9 C94.7,97.0 95.2,99.2 95.6,101.3 C96.0,103.4 96.3,105.6 96.9,107.7 C97.5,109.8 98.3,112.4 99.4,114.1 C100.5,115.8 102.7,117.3 103.3,117.9" stroke-opacity="0.90"/><path d="M59.8,117.9 C61.3,117.8 65.8,117.5 68.8,117.3 C71.8,117.1 74.9,116.9 77.7,116.6 C80.5,116.3 82.6,115.6 85.4,115.4 C88.2,115.2 92.8,115.4 94.3,115.4" stroke-opacity="0.80"/><path d="M61.1,109.0 C61.7,109.2 64.3,110.1 64.9,110.3" stroke-opacity="1.00"/><path d="M81.5,78.3 C81.9,77.9 83.4,77.1 84.1,75.8 C84.8,74.5 85.4,72.4 85.4,70.7 C85.4,69.0 84.3,66.4 84.1,65.6" stroke-opacity="0.70"/><path d="M56.0,101.3 C56.6,101.7 58.7,102.8 59.8,103.9 C60.9,105.0 62.0,107.1 62.4,107.7" stroke-opacity="0.60"/></g><text font-family="Liberation Sans" font-weight="bold" font-size="11.3" fill="#fff" transform="translate(5.6 15.8) scale(1.0 1)">Fe</text><rect x="3.0" y="110.1" width="31.799999999999997" height="1.3" fill="#b4b4b4"/><text x="4.1" y="121.8" font-family="Liberation Sans" font-weight="bold" font-size="9" fill="#eeeeee" stroke="#000" stroke-width="0.7" stroke-opacity="0.45" paint-order="stroke">500 nm</text></svg>
<svg class="pn" style="left:144px;top:284px" width="127" height="127" viewBox="0 0 127 127"><rect width="127" height="127" fill="#2e1400"/><g><rect width="127" height="127" opacity="1.0" filter="url(#nMn)"/></g><path d="M68,0 L102,0 L112,127 L86,127 Z" fill="#1a0a00" opacity="0.4" filter="url(#b3)"/><g fill="none" stroke="#e08020" stroke-width="4.0" stroke-linecap="round" stroke-linejoin="round" opacity="0.3" filter="url(#b1)"><path d="M38.4,45.3 C39.7,44.8 43.1,43.0 46.0,42.0 C48.9,41.0 52.7,39.9 56.0,39.4 C59.3,38.9 62.7,38.9 66.0,39.0 C69.3,39.1 73.0,39.5 75.8,40.1 C78.6,40.7 80.7,41.6 83.0,42.5 C85.3,43.4 88.5,44.8 89.6,45.3" stroke-opacity="0.60"/><path d="M64.0,31.5 C65.0,30.5 69.0,26.6 70.0,25.6" stroke-opacity="0.48"/><path d="M40.4,70.9 C41.7,70.6 45.4,69.7 48.0,69.0 C50.6,68.3 53.5,67.8 56.0,67.0 C58.5,66.2 60.7,65.5 63.0,64.5 C65.3,63.5 68.8,61.6 70.0,61.0" stroke-opacity="0.60"/><path d="M56.0,90.6 C57.3,90.2 61.3,89.2 64.0,88.5 C66.7,87.8 69.5,87.5 72.0,86.7 C74.5,86.0 76.7,85.0 79.0,84.0 C81.3,83.0 84.6,81.2 85.7,80.7" stroke-opacity="0.60"/><path d="M18.7,88.6 C19.8,88.2 22.7,87.2 25.0,86.5 C27.3,85.8 31.2,85.0 32.5,84.7" stroke-opacity="0.48"/><path d="M20.0,100.0 C21.3,99.7 25.3,98.7 28.0,98.0 C30.7,97.3 34.7,96.3 36.0,96.0" stroke-opacity="0.30"/><path d="M61.0,109.0 C61.7,109.2 64.3,109.8 65.0,110.0" stroke-opacity="0.36"/></g><g fill="none" stroke="#e08020" stroke-width="2.0" stroke-linecap="round" stroke-linejoin="round" filter="url(#b1)"><path d="M38.4,45.3 C39.7,44.8 43.1,43.0 46.0,42.0 C48.9,41.0 52.7,39.9 56.0,39.4 C59.3,38.9 62.7,38.9 66.0,39.0 C69.3,39.1 73.0,39.5 75.8,40.1 C78.6,40.7 80.7,41.6 83.0,42.5 C85.3,43.4 88.5,44.8 89.6,45.3" stroke-opacity="0.60"/><path d="M64.0,31.5 C65.0,30.5 69.0,26.6 70.0,25.6" stroke-opacity="0.48"/><path d="M40.4,70.9 C41.7,70.6 45.4,69.7 48.0,69.0 C50.6,68.3 53.5,67.8 56.0,67.0 C58.5,66.2 60.7,65.5 63.0,64.5 C65.3,63.5 68.8,61.6 70.0,61.0" stroke-opacity="0.60"/><path d="M56.0,90.6 C57.3,90.2 61.3,89.2 64.0,88.5 C66.7,87.8 69.5,87.5 72.0,86.7 C74.5,86.0 76.7,85.0 79.0,84.0 C81.3,83.0 84.6,81.2 85.7,80.7" stroke-opacity="0.60"/><path d="M18.7,88.6 C19.8,88.2 22.7,87.2 25.0,86.5 C27.3,85.8 31.2,85.0 32.5,84.7" stroke-opacity="0.48"/><path d="M20.0,100.0 C21.3,99.7 25.3,98.7 28.0,98.0 C30.7,97.3 34.7,96.3 36.0,96.0" stroke-opacity="0.30"/><path d="M61.0,109.0 C61.7,109.2 64.3,109.8 65.0,110.0" stroke-opacity="0.36"/></g><text font-family="Liberation Sans" font-weight="bold" font-size="11.3" fill="#fff" transform="translate(5.6 14.9) scale(1.0 1)">Mn</text><rect x="3.0" y="109.8" width="31.799999999999997" height="1.3" fill="#b4b4b4"/><text x="4.1" y="120.8" font-family="Liberation Sans" font-weight="bold" font-size="9" fill="#eeeeee" stroke="#000" stroke-width="0.7" stroke-opacity="0.45" paint-order="stroke">500 nm</text></svg>
<svg class="pn" style="left:275px;top:22px" width="126" height="127" viewBox="0 0 126 127"><rect width="126" height="127" fill="#707070"/><rect x="50" y="0" width="77" height="66" fill="url(#gC1r)"/><path d="M66,60 L127,55 L127,127 L90,127 L80,95 L62,90 Z" fill="#909090"/><path d="M102,48 L127,40 L127,127 L104,127 Z" fill="#b4b4b4" filter="url(#b6)"/><g fill="#363636" filter="url(#b2)"><path d="M35.0,0.0 L76.0,0.0 L74.0,20.0 L70.0,40.0 L64.0,56.0 L60.0,70.0 L53.0,75.0 L50.0,84.0 L40.0,80.0 L32.0,66.0 L28.0,50.0 L26.0,30.0 L31.0,14.0 Z" fill-opacity="1.00"/></g><g filter="url(#b1)"><path d="M0.0,0.0 L40.0,0.0 L36.0,14.0 L30.0,26.0 L22.0,32.0 L12.0,34.0 L0.0,30.0 Z" fill="#8e8e8e"/><path d="M16.0,4.0 L32.0,4.0 L30.0,16.0 L22.0,22.0 L14.0,16.0 Z" fill="#9c9c9c"/><path d="M0.0,32.0 L14.0,33.0 L16.0,44.0 L10.0,50.0 L0.0,50.0 Z" fill="#7c7c7c"/><path d="M15.0,34.0 L28.0,33.0 L31.0,44.0 L28.0,52.0 L16.0,50.0 Z" fill="#585858"/><path d="M4.0,50.0 L18.0,50.0 L28.0,56.0 L30.0,70.0 L22.0,78.0 L8.0,74.0 L3.0,62.0 Z" fill="#444444"/><path d="M20.0,54.0 L32.0,54.0 L35.0,66.0 L32.0,78.0 L22.0,78.0 Z" fill="#505050"/><path d="M4.0,78.0 L20.0,78.0 L25.0,88.0 L20.0,97.0 L6.0,96.0 Z" fill="#4a4a4a"/><path d="M24.0,78.0 L40.0,76.0 L50.0,84.0 L50.0,98.0 L36.0,102.0 L24.0,96.0 Z" fill="#3a3a3a"/><path d="M60.0,52.0 L76.0,50.0 L84.0,60.0 L82.0,74.0 L68.0,77.0 L60.0,68.0 Z" fill="#4c4c4c"/><path d="M84.0,62.0 L98.0,60.0 L106.0,68.0 L106.0,84.0 L96.0,90.0 L86.0,86.0 Z" fill="#6a6a6a"/><path d="M66.0,82.0 L80.0,80.0 L86.0,90.0 L84.0,104.0 L70.0,106.0 L64.0,96.0 Z" fill="#5e5e5e"/><path d="M44.0,92.0 L60.0,92.0 L66.0,100.0 L64.0,114.0 L48.0,114.0 L42.0,104.0 Z" fill="#4a4a4a"/><path d="M0.0,100.0 L42.0,102.0 L46.0,116.0 L44.0,127.0 L0.0,127.0 Z" fill="#5e5e5e"/><path d="M76.0,98.0 L96.0,96.0 L102.0,110.0 L100.0,127.0 L76.0,127.0 Z" fill="#808080"/><path d="M44.0,114.0 L66.0,112.0 L76.0,118.0 L76.0,127.0 L44.0,127.0 Z" fill="#6a6a6a"/></g><g clip-path="url(#cCspk1)"><g transform="rotate(35 63 63)" opacity="0.25"><rect x="-60" y="-60" width="250" height="250" fill="#d0d0d0" filter="url(#spkC)"/></g></g><g fill="#c8c8c8" filter="url(#b05)"><path d="M53.0,76.0 L60.0,73.0 L66.0,76.0 L67.0,88.0 L60.0,92.0 L53.0,89.0 Z" fill-opacity="1.00"/></g><g fill="none" stroke="#b4b4b4" stroke-width="3.08" stroke-linecap="round" stroke-linejoin="round" opacity="0.3" filter="url(#b1)"><path d="M0.0,25.4 C1.3,25.8 5.1,26.2 7.6,27.9 C10.1,29.6 13.5,32.5 15.2,35.5 C16.9,38.5 17.7,43.1 17.7,45.6 C17.7,48.2 17.3,50.1 15.2,50.7 C13.1,51.3 7.6,49.9 5.1,49.4 C2.5,49.0 0.8,48.4 0.0,48.2" stroke-opacity="0.72"/><path d="M15.2,35.5 C16.9,35.1 22.4,34.2 25.4,33.0 C28.3,31.7 30.8,30.8 33.0,27.9 C35.1,24.9 36.8,19.0 38.0,15.2 C39.3,11.4 39.7,7.6 40.6,5.1 C41.4,2.5 42.7,0.8 43.1,0.0" stroke-opacity="0.72"/><path d="M15.2,50.7 C17.3,50.7 24.9,49.4 27.9,50.7 C30.8,52.0 32.3,54.9 33.0,58.3 C33.6,61.7 33.0,67.2 31.7,71.0 C30.4,74.8 28.1,79.0 25.4,81.1 C22.6,83.2 18.2,84.1 15.2,83.7 C12.3,83.2 9.3,81.6 7.6,78.6 C5.9,75.6 5.1,70.1 5.1,65.9 C5.1,61.7 5.9,55.8 7.6,53.2 C9.3,50.7 13.9,51.1 15.2,50.7" stroke-opacity="0.80"/><path d="M33.0,58.3 C33.8,57.0 36.8,50.7 38.0,50.7 C39.3,50.7 40.1,54.5 40.6,58.3 C41.0,62.1 41.0,69.3 40.6,73.5 C40.1,77.8 39.7,81.1 38.0,83.7 C36.3,86.2 31.7,87.9 30.4,88.7" stroke-opacity="0.64"/><path d="M25.4,81.1 C25.8,82.8 27.9,87.9 27.9,91.3 C27.9,94.7 24.9,98.0 25.4,101.4 C25.8,104.8 27.9,109.4 30.4,111.6 C33.0,113.7 38.9,113.7 40.6,114.1" stroke-opacity="0.64"/><path d="M73.5,0.0 C73.1,2.1 71.8,8.5 71.0,12.7 C70.1,16.9 69.3,21.1 68.5,25.4 C67.6,29.6 66.8,33.8 65.9,38.0 C65.1,42.3 64.2,46.9 63.4,50.7 C62.5,54.5 61.7,57.9 60.9,60.9 C60.0,63.8 59.6,65.9 58.3,68.5 C57.0,71.0 54.1,74.8 53.2,76.1" stroke-opacity="0.56"/><path d="M60.9,60.9 C62.1,60.0 65.5,57.0 68.5,55.8 C71.4,54.5 75.6,52.8 78.6,53.2 C81.6,53.7 84.9,55.4 86.2,58.3 C87.5,61.3 87.1,67.6 86.2,71.0 C85.4,74.4 83.2,76.9 81.1,78.6 C79.0,80.3 76.1,81.6 73.5,81.1 C71.0,80.7 68.0,78.2 65.9,76.1 C63.8,74.0 61.7,69.7 60.9,68.5" stroke-opacity="0.80"/><path d="M86.2,58.3 C87.9,58.7 93.4,59.2 96.3,60.9 C99.3,62.5 102.3,65.1 104.0,68.5 C105.6,71.8 106.9,77.8 106.5,81.1 C106.1,84.5 104.0,87.3 101.4,88.7 C98.9,90.2 94.0,90.4 91.3,90.0 C88.5,89.6 86.6,88.1 84.9,86.2 C83.2,84.3 81.8,79.9 81.1,78.6" stroke-opacity="0.80"/><path d="M67.2,83.7 C68.7,83.2 73.3,80.3 76.1,81.1 C78.8,82.0 82.0,85.8 83.7,88.7 C85.4,91.7 86.6,95.9 86.2,98.9 C85.8,101.8 83.7,105.2 81.1,106.5 C78.6,107.8 73.5,107.8 71.0,106.5 C68.5,105.2 66.6,101.8 65.9,98.9 C65.3,95.9 67.0,90.4 67.2,88.7" stroke-opacity="0.72"/><path d="M43.1,93.8 C45.2,93.4 52.0,90.4 55.8,91.3 C59.6,92.1 64.2,95.9 65.9,98.9 C67.6,101.8 67.2,106.5 65.9,109.0 C64.7,111.6 61.3,113.3 58.3,114.1 C55.4,114.9 50.7,115.4 48.2,114.1 C45.6,112.8 43.9,109.9 43.1,106.5 C42.3,103.1 43.1,95.9 43.1,93.8" stroke-opacity="0.72"/><path d="M81.1,106.5 C82.8,105.6 87.9,101.4 91.3,101.4 C94.7,101.4 99.3,104.0 101.4,106.5 C103.5,109.0 104.4,113.4 104.0,116.6 C103.5,119.9 99.7,124.5 98.9,126.0" stroke-opacity="0.64"/><path d="M106.5,81.1 C107.8,80.7 111.6,79.4 114.1,78.6 C116.6,77.8 119.7,76.7 121.7,76.1 C123.7,75.5 125.3,75.2 126.0,75.1" stroke-opacity="0.56"/><path d="M101.4,88.7 C102.3,90.9 104.8,97.6 106.5,101.4 C108.2,105.2 110.3,107.5 111.6,111.6 C112.8,115.7 113.7,123.6 114.1,126.0" stroke-opacity="0.64"/><path d="M0.0,15.2 C0.8,14.8 3.4,13.9 5.1,12.7 C6.8,11.4 8.5,8.9 10.1,7.6 C11.8,6.3 14.4,5.5 15.2,5.1" stroke-opacity="0.56"/><path d="M45.6,25.4 C46.5,24.5 48.6,22.0 50.7,20.3 C52.8,18.6 57.0,16.1 58.3,15.2" stroke-opacity="0.32"/><path d="M63.4,33.0 C64.2,32.5 66.8,31.3 68.5,30.4 C70.1,29.6 72.7,28.3 73.5,27.9" stroke-opacity="0.32"/><path d="M58.3,114.1 C58.7,116.1 60.4,124.0 60.9,126.0" stroke-opacity="0.40"/><path d="M15.2,83.7 C14.8,85.8 13.5,92.5 12.7,96.3 C11.8,100.2 10.6,104.8 10.1,106.5" stroke-opacity="0.40"/></g><g fill="none" stroke="#b4b4b4" stroke-width="1.4" stroke-linecap="round" stroke-linejoin="round" filter="url(#b07)"><path d="M0.0,25.4 C1.3,25.8 5.1,26.2 7.6,27.9 C10.1,29.6 13.5,32.5 15.2,35.5 C16.9,38.5 17.7,43.1 17.7,45.6 C17.7,48.2 17.3,50.1 15.2,50.7 C13.1,51.3 7.6,49.9 5.1,49.4 C2.5,49.0 0.8,48.4 0.0,48.2" stroke-opacity="0.72"/><path d="M15.2,35.5 C16.9,35.1 22.4,34.2 25.4,33.0 C28.3,31.7 30.8,30.8 33.0,27.9 C35.1,24.9 36.8,19.0 38.0,15.2 C39.3,11.4 39.7,7.6 40.6,5.1 C41.4,2.5 42.7,0.8 43.1,0.0" stroke-opacity="0.72"/><path d="M15.2,50.7 C17.3,50.7 24.9,49.4 27.9,50.7 C30.8,52.0 32.3,54.9 33.0,58.3 C33.6,61.7 33.0,67.2 31.7,71.0 C30.4,74.8 28.1,79.0 25.4,81.1 C22.6,83.2 18.2,84.1 15.2,83.7 C12.3,83.2 9.3,81.6 7.6,78.6 C5.9,75.6 5.1,70.1 5.1,65.9 C5.1,61.7 5.9,55.8 7.6,53.2 C9.3,50.7 13.9,51.1 15.2,50.7" stroke-opacity="0.80"/><path d="M33.0,58.3 C33.8,57.0 36.8,50.7 38.0,50.7 C39.3,50.7 40.1,54.5 40.6,58.3 C41.0,62.1 41.0,69.3 40.6,73.5 C40.1,77.8 39.7,81.1 38.0,83.7 C36.3,86.2 31.7,87.9 30.4,88.7" stroke-opacity="0.64"/><path d="M25.4,81.1 C25.8,82.8 27.9,87.9 27.9,91.3 C27.9,94.7 24.9,98.0 25.4,101.4 C25.8,104.8 27.9,109.4 30.4,111.6 C33.0,113.7 38.9,113.7 40.6,114.1" stroke-opacity="0.64"/><path d="M73.5,0.0 C73.1,2.1 71.8,8.5 71.0,12.7 C70.1,16.9 69.3,21.1 68.5,25.4 C67.6,29.6 66.8,33.8 65.9,38.0 C65.1,42.3 64.2,46.9 63.4,50.7 C62.5,54.5 61.7,57.9 60.9,60.9 C60.0,63.8 59.6,65.9 58.3,68.5 C57.0,71.0 54.1,74.8 53.2,76.1" stroke-opacity="0.56"/><path d="M60.9,60.9 C62.1,60.0 65.5,57.0 68.5,55.8 C71.4,54.5 75.6,52.8 78.6,53.2 C81.6,53.7 84.9,55.4 86.2,58.3 C87.5,61.3 87.1,67.6 86.2,71.0 C85.4,74.4 83.2,76.9 81.1,78.6 C79.0,80.3 76.1,81.6 73.5,81.1 C71.0,80.7 68.0,78.2 65.9,76.1 C63.8,74.0 61.7,69.7 60.9,68.5" stroke-opacity="0.80"/><path d="M86.2,58.3 C87.9,58.7 93.4,59.2 96.3,60.9 C99.3,62.5 102.3,65.1 104.0,68.5 C105.6,71.8 106.9,77.8 106.5,81.1 C106.1,84.5 104.0,87.3 101.4,88.7 C98.9,90.2 94.0,90.4 91.3,90.0 C88.5,89.6 86.6,88.1 84.9,86.2 C83.2,84.3 81.8,79.9 81.1,78.6" stroke-opacity="0.80"/><path d="M67.2,83.7 C68.7,83.2 73.3,80.3 76.1,81.1 C78.8,82.0 82.0,85.8 83.7,88.7 C85.4,91.7 86.6,95.9 86.2,98.9 C85.8,101.8 83.7,105.2 81.1,106.5 C78.6,107.8 73.5,107.8 71.0,106.5 C68.5,105.2 66.6,101.8 65.9,98.9 C65.3,95.9 67.0,90.4 67.2,88.7" stroke-opacity="0.72"/><path d="M43.1,93.8 C45.2,93.4 52.0,90.4 55.8,91.3 C59.6,92.1 64.2,95.9 65.9,98.9 C67.6,101.8 67.2,106.5 65.9,109.0 C64.7,111.6 61.3,113.3 58.3,114.1 C55.4,114.9 50.7,115.4 48.2,114.1 C45.6,112.8 43.9,109.9 43.1,106.5 C42.3,103.1 43.1,95.9 43.1,93.8" stroke-opacity="0.72"/><path d="M81.1,106.5 C82.8,105.6 87.9,101.4 91.3,101.4 C94.7,101.4 99.3,104.0 101.4,106.5 C103.5,109.0 104.4,113.4 104.0,116.6 C103.5,119.9 99.7,124.5 98.9,126.0" stroke-opacity="0.64"/><path d="M106.5,81.1 C107.8,80.7 111.6,79.4 114.1,78.6 C116.6,77.8 119.7,76.7 121.7,76.1 C123.7,75.5 125.3,75.2 126.0,75.1" stroke-opacity="0.56"/><path d="M101.4,88.7 C102.3,90.9 104.8,97.6 106.5,101.4 C108.2,105.2 110.3,107.5 111.6,111.6 C112.8,115.7 113.7,123.6 114.1,126.0" stroke-opacity="0.64"/><path d="M0.0,15.2 C0.8,14.8 3.4,13.9 5.1,12.7 C6.8,11.4 8.5,8.9 10.1,7.6 C11.8,6.3 14.4,5.5 15.2,5.1" stroke-opacity="0.56"/><path d="M45.6,25.4 C46.5,24.5 48.6,22.0 50.7,20.3 C52.8,18.6 57.0,16.1 58.3,15.2" stroke-opacity="0.32"/><path d="M63.4,33.0 C64.2,32.5 66.8,31.3 68.5,30.4 C70.1,29.6 72.7,28.3 73.5,27.9" stroke-opacity="0.32"/><path d="M58.3,114.1 C58.7,116.1 60.4,124.0 60.9,126.0" stroke-opacity="0.40"/><path d="M15.2,83.7 C14.8,85.8 13.5,92.5 12.7,96.3 C11.8,100.2 10.6,104.8 10.1,106.5" stroke-opacity="0.40"/></g><rect width="127" height="1.2" fill="#ddd"/><rect x="0.2" y="112.6" width="32.099999999999994" height="1.3" fill="#484848"/><text x="5.7" y="124.5" font-family="Liberation Sans" font-weight="bold" font-size="9" fill="#eeeeee" stroke="#000" stroke-width="0.7" stroke-opacity="0.45" paint-order="stroke">1 μm</text></svg>
<svg class="pn" style="left:275px;top:154px" width="126" height="126" viewBox="0 0 126 126"><rect width="126" height="127" fill="#000"/><g clip-path="url(#cCspk1)"><g transform="rotate(-30 63 63)" opacity="0.65"><rect x="-60" y="-60" width="250" height="250" fill="#c8c800" filter="url(#dots3)"/></g></g><g mask="url(#mCspk2)"><rect width="127" height="127" fill="#c8c800" opacity="0.85" filter="url(#dots2)"/></g><g fill="none" stroke="#f0f000" stroke-width="4.840000000000001" stroke-linecap="round" stroke-linejoin="round" opacity="0.45" filter="url(#b1)"><path d="M0.0,16.4 C0.4,16.8 1.7,17.6 2.5,18.9 C3.3,20.1 4.2,22.4 5.0,23.9 C5.8,25.4 6.7,26.9 7.5,27.7 C8.3,28.5 9.2,29.0 10.1,28.9 C10.9,28.8 11.8,27.2 12.6,27.0 C13.4,26.8 14.5,27.2 15.1,27.7 C15.7,28.2 16.2,29.8 16.4,30.2" stroke-opacity="1.00"/><path d="M7.5,30.2 C7.9,30.6 8.4,32.1 10.1,32.7 C11.8,33.3 15.9,33.6 17.6,34.0 C19.3,34.4 19.7,34.0 20.1,35.2 C20.5,36.5 20.3,39.6 20.1,41.5 C19.9,43.4 19.9,45.5 18.9,46.5 C17.8,47.5 15.5,47.8 13.8,47.8 C12.1,47.8 10.1,47.8 8.8,46.5 C7.6,45.2 6.5,42.6 6.3,40.3 C6.1,38.0 7.3,34.0 7.5,32.7" stroke-opacity="1.00"/><path d="M1.3,50.3 C1.9,50.1 3.8,49.0 5.0,49.0 C6.2,49.0 8.0,49.2 8.8,50.3 C9.7,51.3 10.1,53.4 10.1,55.3 C10.1,57.2 9.0,60.5 8.8,61.6" stroke-opacity="1.00"/><path d="M18.9,46.5 C19.5,47.1 21.1,49.4 22.6,50.3 C24.1,51.1 26.0,51.6 27.7,51.6 C29.4,51.6 31.5,50.9 32.7,50.3 C34.0,49.7 34.8,48.2 35.2,47.8" stroke-opacity="1.00"/><path d="M22.6,51.6 C22.6,52.4 22.8,54.9 22.6,56.6 C22.4,58.3 21.6,60.8 21.4,61.6" stroke-opacity="0.80"/><path d="M31.4,50.3 C31.8,50.9 33.1,52.8 34.0,54.1 C34.9,55.4 36.3,56.6 36.5,57.9 C36.7,59.1 35.4,61.0 35.2,61.6" stroke-opacity="0.80"/><path d="M30.2,32.7 C30.8,31.9 32.8,29.4 34.0,27.7 C35.2,26.0 36.7,24.3 37.7,22.6 C38.8,20.9 39.9,18.4 40.3,17.6" stroke-opacity="1.00"/><path d="M25.2,12.6 C26.0,12.4 28.5,11.9 30.2,11.3 C31.9,10.7 33.5,9.4 35.2,8.8 C36.9,8.2 38.8,8.1 40.3,7.5 C41.8,6.9 43.4,5.4 44.0,5.0" stroke-opacity="0.90"/><path d="M39.0,11.3 C39.4,11.7 40.9,12.8 41.5,13.8 C42.1,14.9 42.6,17.0 42.8,17.6" stroke-opacity="0.70"/><path d="M44.0,50.3 C44.4,50.7 45.9,51.5 46.5,52.8 C47.1,54.1 47.6,56.2 47.8,57.9 C48.0,59.6 47.8,62.1 47.8,62.9" stroke-opacity="0.80"/><path d="M52.8,32.7 C53.6,32.5 56.4,32.2 57.9,31.4 C59.4,30.6 61.0,28.3 61.6,27.7" stroke-opacity="0.70"/><path d="M55.3,12.6 C55.9,12.0 57.8,9.9 59.1,8.8 C60.4,7.8 62.3,6.7 62.9,6.3" stroke-opacity="0.70"/><path d="M25.2,2.5 C26.2,2.4 29.3,2.2 31.4,1.9 C33.5,1.6 36.7,0.8 37.7,0.6" stroke-opacity="0.70"/><path d="M79.4,2.5 C79.0,4.2 77.7,9.2 76.8,12.6 C75.9,15.9 75.1,19.7 74.3,22.6 C73.5,25.5 72.8,28.1 71.8,30.2 C70.8,32.3 69.2,33.5 68.0,35.2 C66.8,36.9 64.9,39.4 64.3,40.3" stroke-opacity="0.80"/><path d="M85.6,35.2 C85.4,36.2 84.8,39.4 84.4,41.5 C84.0,43.6 83.7,45.5 83.1,47.8 C82.5,50.1 81.0,54.0 80.6,55.3" stroke-opacity="0.80"/><path d="M74.3,47.8 C73.9,48.6 72.6,50.9 71.8,52.8 C71.0,54.7 69.7,58.0 69.3,59.1" stroke-opacity="0.80"/><path d="M79.4,30.2 C80.4,30.2 83.9,30.0 85.6,30.2 C87.3,30.4 88.8,31.2 89.4,31.4" stroke-opacity="0.70"/><path d="M93.2,46.5 C93.6,45.9 95.1,44.3 95.7,42.8 C96.3,41.3 96.8,38.6 97.0,37.7" stroke-opacity="0.70"/><path d="M102.0,59.1 C103.0,58.9 106.4,58.5 108.3,57.9 C110.2,57.3 111.6,56.1 113.3,55.3 C115.0,54.4 116.6,53.6 118.3,52.8 C120.0,52.0 122.6,50.7 123.4,50.3" stroke-opacity="1.00"/><path d="M5.1,63.0 C5.3,64.1 6.0,67.5 6.4,69.4 C6.8,71.3 6.6,73.4 7.7,74.5 C8.8,75.6 11.1,75.4 12.8,75.8 C14.5,76.2 16.4,76.6 17.9,77.0 C19.4,77.4 21.1,78.1 21.7,78.3" stroke-opacity="1.00"/><path d="M21.4,61.6 C21.7,61.8 22.3,62.1 23.0,63.0 C23.7,63.9 24.4,65.7 25.5,66.8 C26.6,67.9 28.1,69.0 29.4,69.4 C30.7,69.8 32.1,69.6 33.2,69.4 C34.3,69.2 35.2,68.9 35.8,68.1 C36.4,67.2 37.1,65.4 37.0,64.3 C36.9,63.2 35.5,62.0 35.2,61.6" stroke-opacity="0.90"/><path d="M47.8,62.9 C47.7,63.8 47.7,66.2 47.3,68.1 C46.9,70.0 45.6,73.4 45.3,74.5" stroke-opacity="0.90"/><path d="M30.7,79.6 C30.4,80.4 29.1,83.2 28.7,84.7 C28.3,86.2 27.8,87.4 28.1,88.5 C28.4,89.6 30.3,90.7 30.7,91.1" stroke-opacity="0.90"/><path d="M40.9,82.2 C40.7,83.0 40.0,85.8 39.6,87.3 C39.2,88.8 38.5,90.5 38.3,91.1" stroke-opacity="0.90"/><path d="M61.3,73.2 C61.1,74.3 60.6,77.5 60.0,79.6 C59.4,81.7 58.6,84.1 57.5,86.0 C56.4,87.9 54.9,89.6 53.6,91.1 C52.3,92.6 50.8,93.8 49.8,94.9 C48.8,96.0 47.7,97.1 47.3,97.5" stroke-opacity="1.00"/><path d="M14.0,86.0 C13.8,87.1 13.4,90.3 12.8,92.4 C12.2,94.5 11.0,96.9 10.2,98.8 C9.3,100.7 8.6,102.4 7.7,103.9 C6.9,105.4 5.9,106.4 5.1,107.7 C4.2,109.0 3.0,110.9 2.6,111.5" stroke-opacity="0.90"/><path d="M17.9,94.9 C18.1,95.8 18.8,98.5 19.2,100.0 C19.6,101.5 19.5,103.2 20.4,103.9 C21.2,104.6 23.6,103.9 24.3,103.9" stroke-opacity="0.80"/><path d="M38.3,98.8 C39.1,99.2 42.3,100.0 43.4,101.3 C44.5,102.6 44.9,104.7 44.7,106.4 C44.5,108.1 43.0,110.2 42.1,111.5 C41.2,112.8 40.7,112.6 39.6,114.1 C38.5,115.6 36.6,118.6 35.8,120.5 C34.9,122.4 34.7,124.8 34.5,125.6" stroke-opacity="1.00"/><path d="M29.4,105.1 C30.0,104.9 32.4,103.9 33.2,103.9 C34.1,103.9 34.3,104.9 34.5,105.1" stroke-opacity="0.80"/><path d="M15.3,105.1 C15.5,106.0 16.2,108.4 16.6,110.3 C17.0,112.2 17.7,115.5 17.9,116.6" stroke-opacity="0.80"/><path d="M68.1,63.0 C67.7,63.9 66.2,66.4 65.6,68.1 C65.0,69.8 64.1,71.5 64.3,73.2 C64.5,74.9 65.7,77.0 66.8,78.3 C67.9,79.6 69.6,80.1 70.7,80.9 C71.8,81.8 72.6,82.3 73.2,83.4 C73.8,84.5 74.1,85.8 74.5,87.3 C74.9,88.8 75.6,90.7 75.8,92.4 C76.0,94.1 76.0,95.8 75.8,97.5 C75.6,99.2 75.3,101.3 74.5,102.6 C73.7,103.9 72.0,104.5 70.7,105.1 C69.4,105.7 67.9,106.4 66.8,106.4 C65.7,106.4 64.7,105.3 64.3,105.1" stroke-opacity="1.00"/><path d="M80.9,69.4 C81.1,70.0 82.2,71.7 82.2,73.2 C82.2,74.7 80.7,77.0 80.9,78.3 C81.1,79.6 83.0,80.5 83.4,80.9" stroke-opacity="0.80"/><path d="M87.3,75.8 C87.9,76.9 90.0,80.3 91.1,82.2 C92.2,84.1 92.8,86.2 93.7,87.3 C94.6,88.3 94.9,88.3 96.2,88.5 C97.5,88.7 99.4,88.7 101.3,88.5 C103.2,88.3 105.8,87.9 107.7,87.3 C109.6,86.7 111.5,85.8 112.8,84.7 C114.1,83.6 114.8,82.4 115.4,80.9 C116.0,79.4 116.3,77.5 116.6,75.8 C116.9,74.1 116.9,72.4 117.3,70.7 C117.7,69.0 118.5,66.9 119.2,65.6 C119.9,64.3 121.1,64.3 121.7,63.0 C122.3,61.7 122.8,58.8 123.0,58.0" stroke-opacity="1.00"/><path d="M101.3,63.0 C100.7,63.6 98.8,65.5 97.5,66.8 C96.2,68.1 94.3,70.0 93.7,70.7" stroke-opacity="1.00"/><path d="M93.7,88.5 C93.3,89.4 91.8,92.0 91.1,93.7 C90.4,95.4 90.2,97.5 89.8,98.8 C89.4,100.1 89.3,100.4 88.5,101.3 C87.7,102.2 86.0,103.1 84.7,103.9 C83.4,104.8 82.0,105.3 80.9,106.4 C79.8,107.5 79.0,108.8 78.3,110.3 C77.6,111.8 77.0,113.9 77.0,115.4 C77.0,116.9 77.4,118.2 78.3,119.2 C79.2,120.2 80.9,121.1 82.2,121.7 C83.5,122.3 84.7,123.2 86.0,123.0 C87.3,122.8 89.0,121.6 89.8,120.5 C90.6,119.4 90.9,118.1 91.1,116.6 C91.3,115.1 91.5,113.0 91.1,111.5 C90.7,110.0 88.9,108.3 88.5,107.7" stroke-opacity="1.00"/><path d="M89.8,98.8 C90.5,99.7 92.6,102.4 93.7,103.9 C94.8,105.4 95.6,106.4 96.2,107.7 C96.8,109.0 97.3,110.9 97.5,111.5" stroke-opacity="0.80"/><path d="M64.0,108.0 C64.2,109.0 64.5,112.0 65.0,114.0 C65.5,116.0 66.8,118.0 67.0,120.0 C67.2,122.0 66.2,125.0 66.0,126.0" stroke-opacity="0.70"/></g><g fill="none" stroke="#f0f000" stroke-width="2.2" stroke-linecap="round" stroke-linejoin="round" filter="url(#wig)"><path d="M0.0,16.4 C0.4,16.8 1.7,17.6 2.5,18.9 C3.3,20.1 4.2,22.4 5.0,23.9 C5.8,25.4 6.7,26.9 7.5,27.7 C8.3,28.5 9.2,29.0 10.1,28.9 C10.9,28.8 11.8,27.2 12.6,27.0 C13.4,26.8 14.5,27.2 15.1,27.7 C15.7,28.2 16.2,29.8 16.4,30.2" stroke-opacity="1.00"/><path d="M7.5,30.2 C7.9,30.6 8.4,32.1 10.1,32.7 C11.8,33.3 15.9,33.6 17.6,34.0 C19.3,34.4 19.7,34.0 20.1,35.2 C20.5,36.5 20.3,39.6 20.1,41.5 C19.9,43.4 19.9,45.5 18.9,46.5 C17.8,47.5 15.5,47.8 13.8,47.8 C12.1,47.8 10.1,47.8 8.8,46.5 C7.6,45.2 6.5,42.6 6.3,40.3 C6.1,38.0 7.3,34.0 7.5,32.7" stroke-opacity="1.00"/><path d="M1.3,50.3 C1.9,50.1 3.8,49.0 5.0,49.0 C6.2,49.0 8.0,49.2 8.8,50.3 C9.7,51.3 10.1,53.4 10.1,55.3 C10.1,57.2 9.0,60.5 8.8,61.6" stroke-opacity="1.00"/><path d="M18.9,46.5 C19.5,47.1 21.1,49.4 22.6,50.3 C24.1,51.1 26.0,51.6 27.7,51.6 C29.4,51.6 31.5,50.9 32.7,50.3 C34.0,49.7 34.8,48.2 35.2,47.8" stroke-opacity="1.00"/><path d="M22.6,51.6 C22.6,52.4 22.8,54.9 22.6,56.6 C22.4,58.3 21.6,60.8 21.4,61.6" stroke-opacity="0.80"/><path d="M31.4,50.3 C31.8,50.9 33.1,52.8 34.0,54.1 C34.9,55.4 36.3,56.6 36.5,57.9 C36.7,59.1 35.4,61.0 35.2,61.6" stroke-opacity="0.80"/><path d="M30.2,32.7 C30.8,31.9 32.8,29.4 34.0,27.7 C35.2,26.0 36.7,24.3 37.7,22.6 C38.8,20.9 39.9,18.4 40.3,17.6" stroke-opacity="1.00"/><path d="M25.2,12.6 C26.0,12.4 28.5,11.9 30.2,11.3 C31.9,10.7 33.5,9.4 35.2,8.8 C36.9,8.2 38.8,8.1 40.3,7.5 C41.8,6.9 43.4,5.4 44.0,5.0" stroke-opacity="0.90"/><path d="M39.0,11.3 C39.4,11.7 40.9,12.8 41.5,13.8 C42.1,14.9 42.6,17.0 42.8,17.6" stroke-opacity="0.70"/><path d="M44.0,50.3 C44.4,50.7 45.9,51.5 46.5,52.8 C47.1,54.1 47.6,56.2 47.8,57.9 C48.0,59.6 47.8,62.1 47.8,62.9" stroke-opacity="0.80"/><path d="M52.8,32.7 C53.6,32.5 56.4,32.2 57.9,31.4 C59.4,30.6 61.0,28.3 61.6,27.7" stroke-opacity="0.70"/><path d="M55.3,12.6 C55.9,12.0 57.8,9.9 59.1,8.8 C60.4,7.8 62.3,6.7 62.9,6.3" stroke-opacity="0.70"/><path d="M25.2,2.5 C26.2,2.4 29.3,2.2 31.4,1.9 C33.5,1.6 36.7,0.8 37.7,0.6" stroke-opacity="0.70"/><path d="M79.4,2.5 C79.0,4.2 77.7,9.2 76.8,12.6 C75.9,15.9 75.1,19.7 74.3,22.6 C73.5,25.5 72.8,28.1 71.8,30.2 C70.8,32.3 69.2,33.5 68.0,35.2 C66.8,36.9 64.9,39.4 64.3,40.3" stroke-opacity="0.80"/><path d="M85.6,35.2 C85.4,36.2 84.8,39.4 84.4,41.5 C84.0,43.6 83.7,45.5 83.1,47.8 C82.5,50.1 81.0,54.0 80.6,55.3" stroke-opacity="0.80"/><path d="M74.3,47.8 C73.9,48.6 72.6,50.9 71.8,52.8 C71.0,54.7 69.7,58.0 69.3,59.1" stroke-opacity="0.80"/><path d="M79.4,30.2 C80.4,30.2 83.9,30.0 85.6,30.2 C87.3,30.4 88.8,31.2 89.4,31.4" stroke-opacity="0.70"/><path d="M93.2,46.5 C93.6,45.9 95.1,44.3 95.7,42.8 C96.3,41.3 96.8,38.6 97.0,37.7" stroke-opacity="0.70"/><path d="M102.0,59.1 C103.0,58.9 106.4,58.5 108.3,57.9 C110.2,57.3 111.6,56.1 113.3,55.3 C115.0,54.4 116.6,53.6 118.3,52.8 C120.0,52.0 122.6,50.7 123.4,50.3" stroke-opacity="1.00"/><path d="M5.1,63.0 C5.3,64.1 6.0,67.5 6.4,69.4 C6.8,71.3 6.6,73.4 7.7,74.5 C8.8,75.6 11.1,75.4 12.8,75.8 C14.5,76.2 16.4,76.6 17.9,77.0 C19.4,77.4 21.1,78.1 21.7,78.3" stroke-opacity="1.00"/><path d="M21.4,61.6 C21.7,61.8 22.3,62.1 23.0,63.0 C23.7,63.9 24.4,65.7 25.5,66.8 C26.6,67.9 28.1,69.0 29.4,69.4 C30.7,69.8 32.1,69.6 33.2,69.4 C34.3,69.2 35.2,68.9 35.8,68.1 C36.4,67.2 37.1,65.4 37.0,64.3 C36.9,63.2 35.5,62.0 35.2,61.6" stroke-opacity="0.90"/><path d="M47.8,62.9 C47.7,63.8 47.7,66.2 47.3,68.1 C46.9,70.0 45.6,73.4 45.3,74.5" stroke-opacity="0.90"/><path d="M30.7,79.6 C30.4,80.4 29.1,83.2 28.7,84.7 C28.3,86.2 27.8,87.4 28.1,88.5 C28.4,89.6 30.3,90.7 30.7,91.1" stroke-opacity="0.90"/><path d="M40.9,82.2 C40.7,83.0 40.0,85.8 39.6,87.3 C39.2,88.8 38.5,90.5 38.3,91.1" stroke-opacity="0.90"/><path d="M61.3,73.2 C61.1,74.3 60.6,77.5 60.0,79.6 C59.4,81.7 58.6,84.1 57.5,86.0 C56.4,87.9 54.9,89.6 53.6,91.1 C52.3,92.6 50.8,93.8 49.8,94.9 C48.8,96.0 47.7,97.1 47.3,97.5" stroke-opacity="1.00"/><path d="M14.0,86.0 C13.8,87.1 13.4,90.3 12.8,92.4 C12.2,94.5 11.0,96.9 10.2,98.8 C9.3,100.7 8.6,102.4 7.7,103.9 C6.9,105.4 5.9,106.4 5.1,107.7 C4.2,109.0 3.0,110.9 2.6,111.5" stroke-opacity="0.90"/><path d="M17.9,94.9 C18.1,95.8 18.8,98.5 19.2,100.0 C19.6,101.5 19.5,103.2 20.4,103.9 C21.2,104.6 23.6,103.9 24.3,103.9" stroke-opacity="0.80"/><path d="M38.3,98.8 C39.1,99.2 42.3,100.0 43.4,101.3 C44.5,102.6 44.9,104.7 44.7,106.4 C44.5,108.1 43.0,110.2 42.1,111.5 C41.2,112.8 40.7,112.6 39.6,114.1 C38.5,115.6 36.6,118.6 35.8,120.5 C34.9,122.4 34.7,124.8 34.5,125.6" stroke-opacity="1.00"/><path d="M29.4,105.1 C30.0,104.9 32.4,103.9 33.2,103.9 C34.1,103.9 34.3,104.9 34.5,105.1" stroke-opacity="0.80"/><path d="M15.3,105.1 C15.5,106.0 16.2,108.4 16.6,110.3 C17.0,112.2 17.7,115.5 17.9,116.6" stroke-opacity="0.80"/><path d="M68.1,63.0 C67.7,63.9 66.2,66.4 65.6,68.1 C65.0,69.8 64.1,71.5 64.3,73.2 C64.5,74.9 65.7,77.0 66.8,78.3 C67.9,79.6 69.6,80.1 70.7,80.9 C71.8,81.8 72.6,82.3 73.2,83.4 C73.8,84.5 74.1,85.8 74.5,87.3 C74.9,88.8 75.6,90.7 75.8,92.4 C76.0,94.1 76.0,95.8 75.8,97.5 C75.6,99.2 75.3,101.3 74.5,102.6 C73.7,103.9 72.0,104.5 70.7,105.1 C69.4,105.7 67.9,106.4 66.8,106.4 C65.7,106.4 64.7,105.3 64.3,105.1" stroke-opacity="1.00"/><path d="M80.9,69.4 C81.1,70.0 82.2,71.7 82.2,73.2 C82.2,74.7 80.7,77.0 80.9,78.3 C81.1,79.6 83.0,80.5 83.4,80.9" stroke-opacity="0.80"/><path d="M87.3,75.8 C87.9,76.9 90.0,80.3 91.1,82.2 C92.2,84.1 92.8,86.2 93.7,87.3 C94.6,88.3 94.9,88.3 96.2,88.5 C97.5,88.7 99.4,88.7 101.3,88.5 C103.2,88.3 105.8,87.9 107.7,87.3 C109.6,86.7 111.5,85.8 112.8,84.7 C114.1,83.6 114.8,82.4 115.4,80.9 C116.0,79.4 116.3,77.5 116.6,75.8 C116.9,74.1 116.9,72.4 117.3,70.7 C117.7,69.0 118.5,66.9 119.2,65.6 C119.9,64.3 121.1,64.3 121.7,63.0 C122.3,61.7 122.8,58.8 123.0,58.0" stroke-opacity="1.00"/><path d="M101.3,63.0 C100.7,63.6 98.8,65.5 97.5,66.8 C96.2,68.1 94.3,70.0 93.7,70.7" stroke-opacity="1.00"/><path d="M93.7,88.5 C93.3,89.4 91.8,92.0 91.1,93.7 C90.4,95.4 90.2,97.5 89.8,98.8 C89.4,100.1 89.3,100.4 88.5,101.3 C87.7,102.2 86.0,103.1 84.7,103.9 C83.4,104.8 82.0,105.3 80.9,106.4 C79.8,107.5 79.0,108.8 78.3,110.3 C77.6,111.8 77.0,113.9 77.0,115.4 C77.0,116.9 77.4,118.2 78.3,119.2 C79.2,120.2 80.9,121.1 82.2,121.7 C83.5,122.3 84.7,123.2 86.0,123.0 C87.3,122.8 89.0,121.6 89.8,120.5 C90.6,119.4 90.9,118.1 91.1,116.6 C91.3,115.1 91.5,113.0 91.1,111.5 C90.7,110.0 88.9,108.3 88.5,107.7" stroke-opacity="1.00"/><path d="M89.8,98.8 C90.5,99.7 92.6,102.4 93.7,103.9 C94.8,105.4 95.6,106.4 96.2,107.7 C96.8,109.0 97.3,110.9 97.5,111.5" stroke-opacity="0.80"/><path d="M64.0,108.0 C64.2,109.0 64.5,112.0 65.0,114.0 C65.5,116.0 66.8,118.0 67.0,120.0 C67.2,122.0 66.2,125.0 66.0,126.0" stroke-opacity="0.70"/></g><text font-family="Liberation Sans" font-weight="bold" font-size="11.3" fill="#fff" transform="translate(9.8 14.5) scale(1.0 1)">Fe</text><rect x="3.1" y="112.0" width="33.6" height="1.3" fill="#b4b4b4"/><text x="10.0" y="123.8" font-family="Liberation Sans" font-weight="bold" font-size="9" fill="#eeeeee" stroke="#000" stroke-width="0.7" stroke-opacity="0.45" paint-order="stroke">1 μm</text></svg>
<svg class="pn" style="left:275px;top:284px" width="126" height="127" viewBox="0 0 126 127"><rect width="126" height="127" fill="#000"/><g><rect width="127" height="127" opacity="1.0" filter="url(#nTi)"/></g><path d="M0,0 L70,0 L60,40 L0,45 Z" fill="#000" opacity="0.2" filter="url(#b6)"/><path d="M92,72 L124,70 L124,125 L92,125 Z" fill="#e000e0" opacity="0.3" filter="url(#b6)"/><path d="M73,55 L92,55 L92,74 L73,74 Z" fill="#e000e0" opacity="0.2" filter="url(#b3)"/><g fill="#000" filter="url(#b3)"><path d="M4.0,52.0 L12.0,49.0 L19.0,55.0 L18.0,64.0 L9.0,67.0 L3.0,60.0 Z" fill-opacity="0.50"/><path d="M20.0,44.0 L30.0,42.0 L34.0,50.0 L31.0,58.0 L22.0,58.0 L18.0,51.0 Z" fill-opacity="0.50"/><path d="M37.0,57.0 L50.0,54.0 L57.0,62.0 L55.0,74.0 L43.0,77.0 L35.0,68.0 Z" fill-opacity="0.50"/><path d="M12.0,76.0 L22.0,73.0 L28.0,80.0 L26.0,89.0 L15.0,91.0 L10.0,84.0 Z" fill-opacity="0.50"/><path d="M34.0,84.0 L46.0,81.0 L52.0,88.0 L50.0,97.0 L38.0,99.0 L33.0,91.0 Z" fill-opacity="0.50"/><path d="M51.0,71.0 L62.0,69.0 L68.0,76.0 L66.0,87.0 L55.0,89.0 L49.0,80.0 Z" fill-opacity="0.50"/><path d="M4.0,99.0 L15.0,97.0 L19.0,104.0 L15.0,112.0 L5.0,112.0 Z" fill-opacity="0.40"/><path d="M53.0,99.0 L66.0,97.0 L73.0,104.0 L70.0,114.0 L56.0,115.0 Z" fill-opacity="0.40"/></g><text font-family="Liberation Sans" font-weight="bold" font-size="11.3" fill="#fff" transform="translate(9.3 14.7) scale(1.0 1)">Ti</text><rect x="2.8" y="110.7" width="34.7" height="1.3" fill="#b4b4b4"/><text x="10.5" y="122.4" font-family="Liberation Sans" font-weight="bold" font-size="9" fill="#eeeeee" stroke="#000" stroke-width="0.7" stroke-opacity="0.45" paint-order="stroke">1 μm</text></svg>
<div class="hl" style="left:12.5px;top:413.3px;width:124.1px"></div>
<div class="tg" style="left:12.9px;top:420.5px">(d)</div>
<div class="tx" style="left:12.5px;top:420.5px;width:124.1px;text-align:center">Compositions of</div>
<div class="tx" style="left:12.5px;top:433.8px;width:124.1px;text-align:center">(Al,<span style="color:#00b050">Cu</span>)<sub>6</sub>Fe (mol%)</div>
<div class="dl" style="left:12.5px;top:450.2px;width:124.1px"></div>
<div class="hl2" style="left:12.5px;top:465px;width:124.1px"></div>
<div class="tc" style="left:8.2px;top:452.8px">Al</div>
<div class="tc" style="left:8.2px;top:467.2px">81.0</div>
<div class="tc" style="left:9.2px;top:479.8px"><span class="pm">±</span>1.3</div>
<div class="tc" style="left:49.5px;top:452.8px">Fe</div>
<div class="tc" style="left:49.5px;top:467.2px">14.3</div>
<div class="tc" style="left:50.5px;top:479.8px"><span class="pm">±</span>0.7</div>
<div class="tc" style="left:90.9px;top:452.8px"><span style="color:#00b050">Cu</span></div>
<div class="tc" style="left:90.9px;top:467.2px">4.7</div>
<div class="tc" style="left:91.9px;top:479.8px"><span class="pm">±</span>0.6</div>
<div class="hl" style="left:143.5px;top:413.3px;width:123.60000000000002px"></div>
<div class="tg" style="left:143.9px;top:420.5px">(e)</div>
<div class="tx" style="left:143.5px;top:420.5px;width:123.60000000000002px;text-align:center">Compositions of</div>
<div class="tx" style="left:143.5px;top:433.8px;width:123.60000000000002px;text-align:center">Al<sub>6</sub>(Fe,<span style="color:#c55a11">Mn</span>) (mol%)</div>
<div class="dl" style="left:143.5px;top:450.2px;width:123.60000000000002px"></div>
<div class="hl2" style="left:143.5px;top:465px;width:123.60000000000002px"></div>
<div class="tc" style="left:139.1px;top:452.8px">Al</div>
<div class="tc" style="left:139.1px;top:467.2px">84.5</div>
<div class="tc" style="left:140.1px;top:479.8px"><span class="pm">±</span>1.5</div>
<div class="tc" style="left:180.3px;top:452.8px">Fe</div>
<div class="tc" style="left:180.3px;top:467.2px">12.8</div>
<div class="tc" style="left:181.3px;top:479.8px"><span class="pm">±</span>1.0</div>
<div class="tc" style="left:221.5px;top:452.8px"><span style="color:#c55a11">Mn</span></div>
<div class="tc" style="left:221.5px;top:467.2px">2.7</div>
<div class="tc" style="left:222.5px;top:479.8px"><span class="pm">±</span>0.5</div>
<div class="hl" style="left:274.1px;top:413.3px;width:123.59999999999997px"></div>
<div class="tg" style="left:274.5px;top:420.5px">(f)</div>
<div class="tx" style="left:274.1px;top:420.5px;width:123.59999999999997px;text-align:center">Compositions of</div>
<div class="tx" style="left:274.1px;top:433.8px;width:123.59999999999997px;text-align:center">Al<sub>6</sub>Fe (mol%)</div>
<div class="dl" style="left:274.1px;top:450.2px;width:123.59999999999997px"></div>
<div class="hl2" style="left:274.1px;top:465px;width:123.59999999999997px"></div>
<div class="tc" style="left:269.7px;top:452.8px">Al</div>
<div class="tc" style="left:269.7px;top:467.2px">85.8</div>
<div class="tc" style="left:270.7px;top:479.8px"><span class="pm">±</span>1.4</div>
<div class="tc" style="left:310.9px;top:452.8px">Fe</div>
<div class="tc" style="left:310.9px;top:467.2px">14.1</div>
<div class="tc" style="left:311.9px;top:479.8px"><span class="pm">±</span>1.1</div>
<div class="tc" style="left:352.1px;top:452.8px"><span style="color:#ff00ff">Ti</span></div>
<div class="tc" style="left:352.1px;top:467.2px">0.3</div>
<div class="tc" style="left:353.1px;top:479.8px"><span class="pm">±</span>0.3</div>
<svg class="ch" width="685" height="501" viewBox="0 0 685 501" font-family='"Liberation Sans", sans-serif'><line x1="484.9" y1="17.3" x2="484.9" y2="445" stroke="#b2b2b2" stroke-width="1.8" stroke-dasharray="4.8 2.18"/><line x1="541.9" y1="17.3" x2="541.9" y2="445" stroke="#b2b2b2" stroke-width="1.8" stroke-dasharray="4.8 2.18"/><line x1="598.7" y1="17.3" x2="598.7" y2="445" stroke="#b2b2b2" stroke-width="1.8" stroke-dasharray="4.8 2.18"/><line x1="655.4" y1="17.3" x2="655.4" y2="445" stroke="#b2b2b2" stroke-width="1.8" stroke-dasharray="4.8 2.18"/><rect x="532.9" y="235.9" width="18" height="22.3" fill="#fff"/><rect x="589.7" y="235.9" width="18" height="22.3" fill="#fff"/><rect x="646.4" y="235.9" width="18" height="22.3" fill="#fff"/>
<line x1="457.0" y1="218.70" x2="460.0" y2="218.70" stroke="#000" stroke-width="1.2"/>
<line x1="457.0" y1="210.59" x2="459.1" y2="210.59" stroke="#000" stroke-width="1.2"/>
<line x1="457.0" y1="202.48" x2="459.1" y2="202.48" stroke="#000" stroke-width="1.2"/>
<line x1="457.0" y1="194.38" x2="459.1" y2="194.38" stroke="#000" stroke-width="1.2"/>
<line x1="457.0" y1="186.27" x2="459.1" y2="186.27" stroke="#000" stroke-width="1.2"/>
<line x1="457.0" y1="178.16" x2="460.0" y2="178.16" stroke="#000" stroke-width="1.2"/>
<line x1="457.0" y1="170.05" x2="459.1" y2="170.05" stroke="#000" stroke-width="1.2"/>
<line x1="457.0" y1="161.94" x2="459.1" y2="161.94" stroke="#000" stroke-width="1.2"/>
<line x1="457.0" y1="153.84" x2="459.1" y2="153.84" stroke="#000" stroke-width="1.2"/>
<line x1="457.0" y1="145.73" x2="459.1" y2="145.73" stroke="#000" stroke-width="1.2"/>
<line x1="457.0" y1="137.62" x2="460.0" y2="137.62" stroke="#000" stroke-width="1.2"/>
<line x1="457.0" y1="129.51" x2="459.1" y2="129.51" stroke="#000" stroke-width="1.2"/>
<line x1="457.0" y1="121.40" x2="459.1" y2="121.40" stroke="#000" stroke-width="1.2"/>
<line x1="457.0" y1="113.30" x2="459.1" y2="113.30" stroke="#000" stroke-width="1.2"/>
<line x1="457.0" y1="105.19" x2="459.1" y2="105.19" stroke="#000" stroke-width="1.2"/>
<line x1="457.0" y1="97.08" x2="460.0" y2="97.08" stroke="#000" stroke-width="1.2"/>
<line x1="457.0" y1="88.97" x2="459.1" y2="88.97" stroke="#000" stroke-width="1.2"/>
<line x1="457.0" y1="80.86" x2="459.1" y2="80.86" stroke="#000" stroke-width="1.2"/>
<line x1="457.0" y1="72.76" x2="459.1" y2="72.76" stroke="#000" stroke-width="1.2"/>
<line x1="457.0" y1="64.65" x2="459.1" y2="64.65" stroke="#000" stroke-width="1.2"/>
<line x1="457.0" y1="56.54" x2="460.0" y2="56.54" stroke="#000" stroke-width="1.2"/>
<line x1="457.0" y1="48.43" x2="459.1" y2="48.43" stroke="#000" stroke-width="1.2"/>
<line x1="457.0" y1="40.32" x2="459.1" y2="40.32" stroke="#000" stroke-width="1.2"/>
<line x1="457.0" y1="32.22" x2="459.1" y2="32.22" stroke="#000" stroke-width="1.2"/>
<line x1="457.0" y1="24.11" x2="459.1" y2="24.11" stroke="#000" stroke-width="1.2"/>
<line x1="457.0" y1="16.00" x2="460.0" y2="16.00" stroke="#000" stroke-width="1.2"/>
<text x="447.3" y="221.6" text-anchor="end" font-size="8.2" fill="#222">0.0</text>
<text x="447.3" y="181.1" text-anchor="end" font-size="8.2" fill="#222">0.5</text>
<text x="447.3" y="140.5" text-anchor="end" font-size="8.2" fill="#222">1.0</text>
<text x="447.3" y="100.0" text-anchor="end" font-size="8.2" fill="#222">1.5</text>
<text x="447.3" y="59.4" text-anchor="end" font-size="8.2" fill="#222">2.0</text>
<text x="447.3" y="18.9" text-anchor="end" font-size="8.2" fill="#222">2.5</text>
<rect x="457.0" y="16.0" width="225.79999999999995" height="202.7" fill="none" stroke="#000" stroke-width="1.7"/>
<text x="463.6" y="30.5" font-size="9.8" font-weight="bold" letter-spacing="1.1">(g)</text>
<text transform="translate(427.6,115.9) rotate(-90)" text-anchor="middle" font-size="10.7" fill="#111">Solute <tspan font-weight="bold">Fe</tspan> content in α-Al / mass%</text>
<line x1="484.9" y1="110.1" x2="484.9" y2="150.6" stroke="#000" stroke-width="1.5"/>
<line x1="482.7" y1="110.1" x2="487.09999999999997" y2="110.1" stroke="#000" stroke-width="1.3"/>
<line x1="482.7" y1="150.6" x2="487.09999999999997" y2="150.6" stroke="#000" stroke-width="1.3"/>
<line x1="484.9" y1="158.7" x2="484.9" y2="194.4" stroke="#000" stroke-width="1.5"/>
<line x1="482.7" y1="158.7" x2="487.09999999999997" y2="158.7" stroke="#000" stroke-width="1.3"/>
<line x1="482.7" y1="194.4" x2="487.09999999999997" y2="194.4" stroke="#000" stroke-width="1.3"/>
<line x1="541.9" y1="109.2" x2="541.9" y2="139.2" stroke="#000" stroke-width="1.5"/>
<line x1="539.6999999999999" y1="109.2" x2="544.1" y2="109.2" stroke="#000" stroke-width="1.3"/>
<line x1="539.6999999999999" y1="139.2" x2="544.1" y2="139.2" stroke="#000" stroke-width="1.3"/>
<line x1="541.9" y1="171.7" x2="541.9" y2="201.7" stroke="#000" stroke-width="1.5"/>
<line x1="539.6999999999999" y1="171.7" x2="544.1" y2="171.7" stroke="#000" stroke-width="1.3"/>
<line x1="539.6999999999999" y1="201.7" x2="544.1" y2="201.7" stroke="#000" stroke-width="1.3"/>
<line x1="598.7" y1="118.2" x2="598.7" y2="140.9" stroke="#000" stroke-width="1.5"/>
<line x1="596.5" y1="118.2" x2="600.9000000000001" y2="118.2" stroke="#000" stroke-width="1.3"/>
<line x1="596.5" y1="140.9" x2="600.9000000000001" y2="140.9" stroke="#000" stroke-width="1.3"/>
<line x1="598.7" y1="177.3" x2="598.7" y2="193.6" stroke="#000" stroke-width="1.5"/>
<line x1="596.5" y1="177.3" x2="600.9000000000001" y2="177.3" stroke="#000" stroke-width="1.3"/>
<line x1="596.5" y1="193.6" x2="600.9000000000001" y2="193.6" stroke="#000" stroke-width="1.3"/>
<line x1="655.4" y1="87.4" x2="655.4" y2="142.5" stroke="#000" stroke-width="1.5"/>
<line x1="653.1999999999999" y1="87.4" x2="657.6" y2="87.4" stroke="#000" stroke-width="1.3"/>
<line x1="653.1999999999999" y1="142.5" x2="657.6" y2="142.5" stroke="#000" stroke-width="1.3"/>
<line x1="655.4" y1="169.2" x2="655.4" y2="183.8" stroke="#000" stroke-width="1.5"/>
<line x1="653.1999999999999" y1="169.2" x2="657.6" y2="169.2" stroke="#000" stroke-width="1.3"/>
<line x1="653.1999999999999" y1="183.8" x2="657.6" y2="183.8" stroke="#000" stroke-width="1.3"/>
<rect x="480.1" y="125.5" width="9.6" height="9.6" fill="#000"/>
<rect x="480.8" y="172.5" width="8.1" height="8.1" fill="#fff" stroke="#000" stroke-width="1.5"/>
<rect x="537.1" y="119.0" width="9.6" height="9.6" fill="#000"/>
<rect x="537.9" y="182.2" width="8.1" height="8.1" fill="#fff" stroke="#000" stroke-width="1.5"/>
<rect x="593.9" y="124.7" width="9.6" height="9.6" fill="#000"/>
<rect x="594.7" y="181.4" width="8.1" height="8.1" fill="#fff" stroke="#000" stroke-width="1.5"/>
<rect x="650.6" y="110.1" width="9.6" height="9.6" fill="#000"/>
<rect x="651.4" y="172.5" width="8.1" height="8.1" fill="#fff" stroke="#000" stroke-width="1.5"/>
<line x1="457.0" y1="445.00" x2="460.0" y2="445.00" stroke="#000" stroke-width="1.2"/>
<line x1="457.0" y1="436.42" x2="459.1" y2="436.42" stroke="#000" stroke-width="1.2"/>
<line x1="457.0" y1="427.83" x2="459.1" y2="427.83" stroke="#000" stroke-width="1.2"/>
<line x1="457.0" y1="419.25" x2="459.1" y2="419.25" stroke="#000" stroke-width="1.2"/>
<line x1="457.0" y1="410.66" x2="459.1" y2="410.66" stroke="#000" stroke-width="1.2"/>
<line x1="457.0" y1="402.08" x2="460.0" y2="402.08" stroke="#000" stroke-width="1.2"/>
<line x1="457.0" y1="393.50" x2="459.1" y2="393.50" stroke="#000" stroke-width="1.2"/>
<line x1="457.0" y1="384.91" x2="459.1" y2="384.91" stroke="#000" stroke-width="1.2"/>
<line x1="457.0" y1="376.33" x2="459.1" y2="376.33" stroke="#000" stroke-width="1.2"/>
<line x1="457.0" y1="367.74" x2="459.1" y2="367.74" stroke="#000" stroke-width="1.2"/>
<line x1="457.0" y1="359.16" x2="460.0" y2="359.16" stroke="#000" stroke-width="1.2"/>
<line x1="457.0" y1="350.58" x2="459.1" y2="350.58" stroke="#000" stroke-width="1.2"/>
<line x1="457.0" y1="341.99" x2="459.1" y2="341.99" stroke="#000" stroke-width="1.2"/>
<line x1="457.0" y1="333.41" x2="459.1" y2="333.41" stroke="#000" stroke-width="1.2"/>
<line x1="457.0" y1="324.82" x2="459.1" y2="324.82" stroke="#000" stroke-width="1.2"/>
<line x1="457.0" y1="316.24" x2="460.0" y2="316.24" stroke="#000" stroke-width="1.2"/>
<line x1="457.0" y1="307.66" x2="459.1" y2="307.66" stroke="#000" stroke-width="1.2"/>
<line x1="457.0" y1="299.07" x2="459.1" y2="299.07" stroke="#000" stroke-width="1.2"/>
<line x1="457.0" y1="290.49" x2="459.1" y2="290.49" stroke="#000" stroke-width="1.2"/>
<line x1="457.0" y1="281.90" x2="459.1" y2="281.90" stroke="#000" stroke-width="1.2"/>
<line x1="457.0" y1="273.32" x2="460.0" y2="273.32" stroke="#000" stroke-width="1.2"/>
<line x1="457.0" y1="264.74" x2="459.1" y2="264.74" stroke="#000" stroke-width="1.2"/>
<line x1="457.0" y1="256.15" x2="459.1" y2="256.15" stroke="#000" stroke-width="1.2"/>
<line x1="457.0" y1="247.57" x2="459.1" y2="247.57" stroke="#000" stroke-width="1.2"/>
<line x1="457.0" y1="238.98" x2="459.1" y2="238.98" stroke="#000" stroke-width="1.2"/>
<line x1="457.0" y1="230.40" x2="460.0" y2="230.40" stroke="#000" stroke-width="1.2"/>
<text x="447.3" y="447.9" text-anchor="end" font-size="8.2" fill="#222">0.0</text>
<text x="447.3" y="405.0" text-anchor="end" font-size="8.2" fill="#222">0.5</text>
<text x="447.3" y="362.1" text-anchor="end" font-size="8.2" fill="#222">1.0</text>
<text x="447.3" y="319.1" text-anchor="end" font-size="8.2" fill="#222">1.5</text>
<text x="447.3" y="276.2" text-anchor="end" font-size="8.2" fill="#222">2.0</text>
<text x="447.3" y="233.3" text-anchor="end" font-size="8.2" fill="#222">2.5</text>
<rect x="457.0" y="230.4" width="225.79999999999995" height="214.6" fill="none" stroke="#000" stroke-width="1.7"/>
<text x="463.6" y="246.3" font-size="9.8" font-weight="bold" letter-spacing="1.1">(h)</text>
<text transform="translate(430.9,337.5) rotate(-90)" text-anchor="middle" font-size="10.7" fill="#111">Solute contents in α-Al / mass%</text>
<line x1="541.9" y1="336.8" x2="541.9" y2="354.0" stroke="#000" stroke-width="1.5"/>
<line x1="539.6999999999999" y1="336.8" x2="544.1" y2="336.8" stroke="#000" stroke-width="1.3"/>
<line x1="539.6999999999999" y1="354.0" x2="544.1" y2="354.0" stroke="#000" stroke-width="1.3"/>
<line x1="541.9" y1="383.2" x2="541.9" y2="408.9" stroke="#000" stroke-width="1.5"/>
<line x1="539.6999999999999" y1="383.2" x2="544.1" y2="383.2" stroke="#000" stroke-width="1.3"/>
<line x1="539.6999999999999" y1="408.9" x2="544.1" y2="408.9" stroke="#000" stroke-width="1.3"/>
<line x1="598.7" y1="328.3" x2="598.7" y2="347.1" stroke="#000" stroke-width="1.5"/>
<line x1="596.5" y1="328.3" x2="600.9000000000001" y2="328.3" stroke="#000" stroke-width="1.3"/>
<line x1="596.5" y1="347.1" x2="600.9000000000001" y2="347.1" stroke="#000" stroke-width="1.3"/>
<line x1="598.7" y1="339.4" x2="598.7" y2="361.7" stroke="#000" stroke-width="1.5"/>
<line x1="596.5" y1="339.4" x2="600.9000000000001" y2="339.4" stroke="#000" stroke-width="1.3"/>
<line x1="596.5" y1="361.7" x2="600.9000000000001" y2="361.7" stroke="#000" stroke-width="1.3"/>
<line x1="655.4" y1="301.6" x2="655.4" y2="330.8" stroke="#000" stroke-width="1.5"/>
<line x1="653.1999999999999" y1="301.6" x2="657.6" y2="301.6" stroke="#000" stroke-width="1.3"/>
<line x1="653.1999999999999" y1="330.8" x2="657.6" y2="330.8" stroke="#000" stroke-width="1.3"/>
<line x1="655.4" y1="263.0" x2="655.4" y2="307.7" stroke="#000" stroke-width="1.5"/>
<line x1="653.1999999999999" y1="263.0" x2="657.6" y2="263.0" stroke="#000" stroke-width="1.3"/>
<line x1="653.1999999999999" y1="307.7" x2="657.6" y2="307.7" stroke="#000" stroke-width="1.3"/>
<rect x="537.1" y="340.6" width="9.6" height="9.6" fill="#00b050"/>
<rect x="537.9" y="392.0" width="8.1" height="8.1" fill="#fff" stroke="#00b050" stroke-width="1.5"/>
<rect x="593.9" y="332.9" width="9.6" height="9.6" fill="#c55a11"/>
<rect x="594.7" y="346.5" width="8.1" height="8.1" fill="#fff" stroke="#c55a11" stroke-width="1.5"/>
<rect x="650.6" y="311.4" width="9.6" height="9.6" fill="#ff00ff"/>
<rect x="651.4" y="281.3" width="8.1" height="8.1" fill="#fff" stroke="#ff00ff" stroke-width="1.5"/>

<rect x="530.5" y="26.5" width="10" height="9.8" fill="#000"/>
<rect x="531.2" y="47.3" width="8.6" height="8.6" fill="#fff" stroke="#000" stroke-width="1.4"/>
<text x="548" y="34.4" font-size="10.7">Inside melt pool</text>
<text x="548" y="54.5" font-size="10.7">At melt pool boundaries</text>
<text x="542.9" y="250.1" font-size="12.2" font-weight="bold" fill="#00b050" text-anchor="middle">Cu</text>
<text x="599.7" y="250.1" font-size="12.2" font-weight="bold" fill="#c55a11" text-anchor="middle">Mn</text>
<text x="656.3" y="250.1" font-size="12.2" font-weight="bold" fill="#ff00ff" text-anchor="middle">Ti</text>


<g font-size="11.9" fill="#111" text-anchor="middle">
<text x="485.2" y="461.3">Al-2.5Fe</text>
<text x="542.3" y="461.3">Al-2.5Fe</text>
<text x="598.2" y="461.3">Al-2.5Fe</text>
<text x="656.4" y="461.3">Al-2.5Fe</text>
<text x="542.3" y="476">-2<tspan fill="#00b050">Cu</tspan></text>
<text x="597.7" y="476">-2<tspan fill="#c55a11">Mn</tspan></text>
<text x="657" y="476">-1.5<tspan fill="#ff00ff">Ti</tspan></text>
</g></svg>
</div>
</body></html>
